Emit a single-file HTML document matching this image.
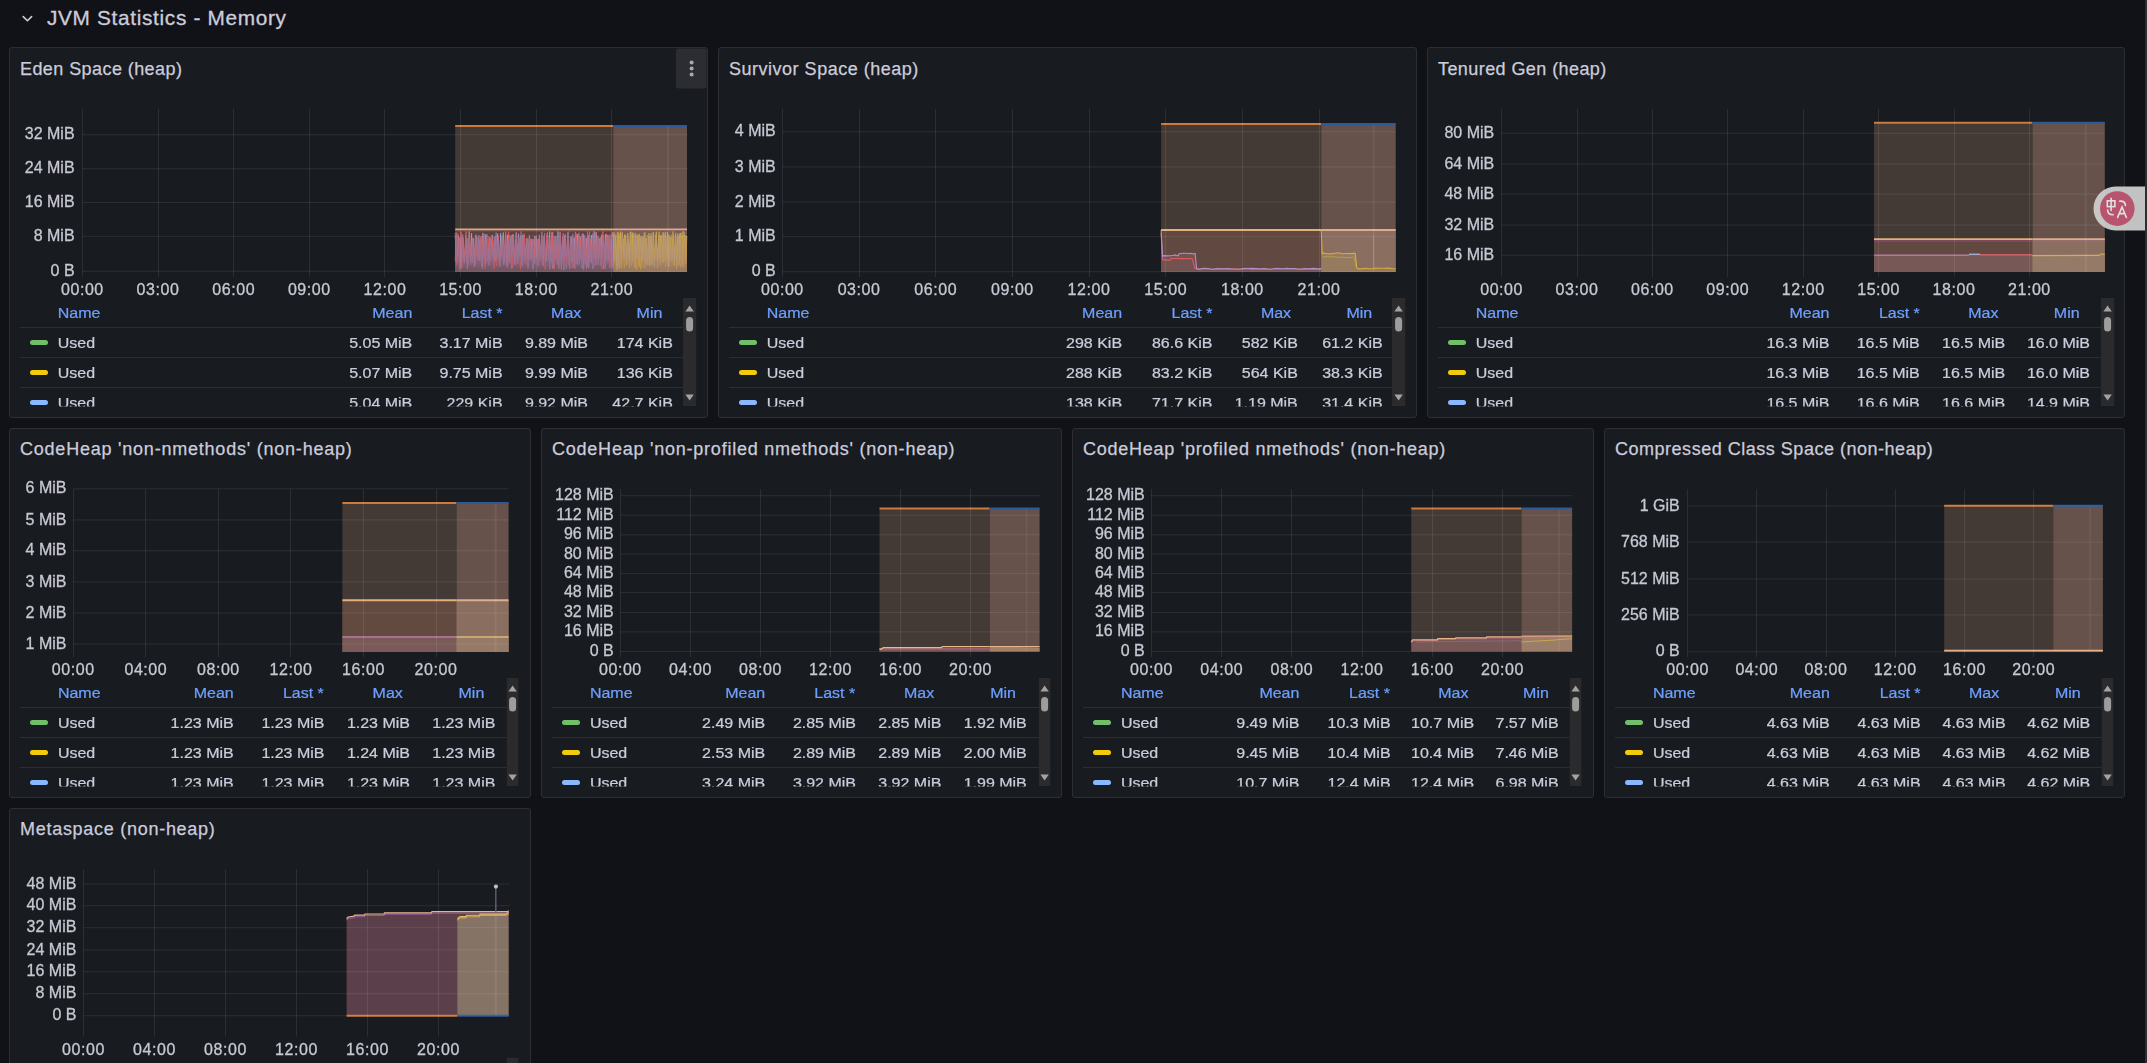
<!DOCTYPE html><html><head><meta charset="utf-8"><title>JVM Statistics - Memory</title><style>html,body{margin:0;padding:0;}
body{width:2147px;height:1063px;overflow:hidden;background:#111217;position:relative;font-family:"Liberation Sans", sans-serif;}
.panel{position:absolute;box-sizing:border-box;background:#181b1f;border:1px solid #2c2e33;border-radius:3px;}
.panel svg.ps{position:absolute;left:-1px;top:-1px;overflow:visible;}
.panel svg.ov{will-change:transform;}
svg text{font-family:"Liberation Sans", sans-serif;}
.pt{stroke:#ccccdc;stroke-width:0.25px;}
.ax{stroke:#c8c8d4;stroke-width:0.3px;}
.lg{stroke-width:0.25px;}
.row-h{position:absolute;left:0;top:0;width:2147px;height:40px;}
.sbar{position:absolute;left:2145px;top:0;width:2px;height:1063px;background:#2e2e2e;}
</style></head><body><svg class="row-h" width="2147" height="40"><path d="M23.2 16.6 L27.4 20.8 L31.6 16.6" fill="none" stroke="#ccccdc" stroke-width="1.6" stroke-linecap="round" stroke-linejoin="round"/><text x="47" y="25" font-size="20.8" fill="#ccccdc" letter-spacing="0.67" style="stroke:#ccccdc;stroke-width:0.3px">JVM Statistics - Memory</text></svg><div class="panel" style="left:9px;top:47px;width:699px;height:371px"><svg style="top:0px" class="ps" width="699" height="371" viewBox="0 0 699 371"><text x="11.00" y="27.00" font-size="18" fill="#ccccdc" class="pt" textLength="161.9" lengthAdjust="spacing">Eden Space (heap)</text><rect x="667" y="0.5" width="30.5" height="40" rx="2" fill="#2b2d32"/><circle cx="682.6" cy="14.6" r="2" fill="#a9a9b4"/><circle cx="682.6" cy="20.6" r="2" fill="#a9a9b4"/><circle cx="682.6" cy="26.4" r="2" fill="#a9a9b4"/><rect x="446.20" y="78.00" width="158.00" height="146.00" fill="#433a36"/><rect x="604.20" y="78.00" width="73.80" height="146.00" fill="#66524a"/><defs><linearGradient id="eg1" gradientUnits="userSpaceOnUse" x1="0" y1="181.4" x2="0" y2="224.0"><stop offset="0" stop-color="#9a7098" stop-opacity="0.75"/><stop offset="0.7" stop-color="#8e6a8a" stop-opacity="0.55"/><stop offset="1" stop-color="#7a5a70" stop-opacity="0.15"/></linearGradient><linearGradient id="eg2" gradientUnits="userSpaceOnUse" x1="0" y1="181.4" x2="0" y2="224.0"><stop offset="0" stop-color="#c09458" stop-opacity="0.8"/><stop offset="0.7" stop-color="#b48a58" stop-opacity="0.6"/><stop offset="1" stop-color="#a08060" stop-opacity="0.2"/></linearGradient></defs><rect x="446.20" y="181.40" width="158.00" height="42.60" fill="#5a4240"/><rect x="446.20" y="215.00" width="158.00" height="9.00" fill="#6a4e4c"/><rect x="604.20" y="181.40" width="73.80" height="42.60" fill="#7a6252"/><rect x="604.20" y="215.00" width="73.80" height="9.00" fill="#8a6e5e"/><path d="M446.2 224.0 L446.2 187.7 L448.1 214.5 L449.5 187.9 L450.5 215.2 L452.1 189.6 L453.0 212.2 L453.9 189.8 L455.5 208.6 L457.5 191.1 L459.1 216.6 L460.1 183.0 L461.5 208.8 L462.6 185.0 L463.4 214.5 L464.7 190.1 L466.2 217.0 L467.6 188.5 L468.9 211.9 L470.9 191.4 L472.7 217.9 L473.9 184.9 L475.0 209.0 L476.8 186.3 L478.6 213.4 L480.5 190.1 L481.3 210.9 L483.2 186.9 L485.2 213.6 L486.1 188.3 L487.8 211.8 L488.7 185.7 L490.7 218.6 L491.6 185.0 L492.5 208.8 L494.3 184.4 L495.8 214.3 L496.8 189.1 L497.7 217.0 L498.7 186.5 L499.7 211.8 L501.7 189.7 L502.9 220.4 L503.9 186.3 L505.7 217.0 L506.7 191.3 L507.7 211.6 L509.5 185.7 L510.6 209.0 L511.5 187.9 L512.6 216.4 L513.9 186.8 L515.8 214.8 L517.3 190.3 L518.3 210.2 L520.2 189.9 L521.3 210.7 L523.0 190.9 L524.0 221.3 L525.9 188.0 L527.2 209.5 L528.0 191.1 L529.1 217.9 L530.2 189.9 L531.7 212.1 L532.8 189.0 L533.6 211.2 L535.1 190.1 L536.6 211.9 L538.5 184.6 L539.4 211.8 L540.7 183.4 L541.7 213.2 L543.2 184.0 L544.4 220.5 L546.4 188.5 L548.0 216.2 L549.0 183.2 L549.8 220.7 L551.5 191.1 L552.3 216.9 L553.7 189.1 L554.9 222.0 L555.8 187.5 L557.4 220.6 L559.1 188.9 L560.9 220.8 L562.1 188.7 L564.0 220.2 L565.3 189.6 L567.1 216.0 L568.7 186.1 L570.2 216.5 L571.1 188.3 L573.0 220.3 L574.7 186.2 L576.4 216.1 L577.7 190.0 L578.6 218.5 L579.5 188.0 L580.8 211.2 L582.5 187.1 L584.0 220.9 L585.1 183.0 L586.3 217.5 L587.3 184.3 L589.2 217.2 L590.6 190.5 L591.7 217.3 L592.8 186.6 L594.5 220.8 L596.4 186.2 L597.9 212.4 L598.9 187.1 L600.7 219.9 L602.3 191.0 L603.5 210.4 L604.2 210.4 L604.2 224.0" fill="url(#eg1)" stroke-linejoin="round"/><path d="M446.2 187.7 L448.1 214.5 L449.5 187.9 L450.5 215.2 L452.1 189.6 L453.0 212.2 L453.9 189.8 L455.5 208.6 L457.5 191.1 L459.1 216.6 L460.1 183.0 L461.5 208.8 L462.6 185.0 L463.4 214.5 L464.7 190.1 L466.2 217.0 L467.6 188.5 L468.9 211.9 L470.9 191.4 L472.7 217.9 L473.9 184.9 L475.0 209.0 L476.8 186.3 L478.6 213.4 L480.5 190.1 L481.3 210.9 L483.2 186.9 L485.2 213.6 L486.1 188.3 L487.8 211.8 L488.7 185.7 L490.7 218.6 L491.6 185.0 L492.5 208.8 L494.3 184.4 L495.8 214.3 L496.8 189.1 L497.7 217.0 L498.7 186.5 L499.7 211.8 L501.7 189.7 L502.9 220.4 L503.9 186.3 L505.7 217.0 L506.7 191.3 L507.7 211.6 L509.5 185.7 L510.6 209.0 L511.5 187.9 L512.6 216.4 L513.9 186.8 L515.8 214.8 L517.3 190.3 L518.3 210.2 L520.2 189.9 L521.3 210.7 L523.0 190.9 L524.0 221.3 L525.9 188.0 L527.2 209.5 L528.0 191.1 L529.1 217.9 L530.2 189.9 L531.7 212.1 L532.8 189.0 L533.6 211.2 L535.1 190.1 L536.6 211.9 L538.5 184.6 L539.4 211.8 L540.7 183.4 L541.7 213.2 L543.2 184.0 L544.4 220.5 L546.4 188.5 L548.0 216.2 L549.0 183.2 L549.8 220.7 L551.5 191.1 L552.3 216.9 L553.7 189.1 L554.9 222.0 L555.8 187.5 L557.4 220.6 L559.1 188.9 L560.9 220.8 L562.1 188.7 L564.0 220.2 L565.3 189.6 L567.1 216.0 L568.7 186.1 L570.2 216.5 L571.1 188.3 L573.0 220.3 L574.7 186.2 L576.4 216.1 L577.7 190.0 L578.6 218.5 L579.5 188.0 L580.8 211.2 L582.5 187.1 L584.0 220.9 L585.1 183.0 L586.3 217.5 L587.3 184.3 L589.2 217.2 L590.6 190.5 L591.7 217.3 L592.8 186.6 L594.5 220.8 L596.4 186.2 L597.9 212.4 L598.9 187.1 L600.7 219.9 L602.3 191.0 L603.5 210.4 L604.2 210.4" fill="none" stroke="#aaa6d0" stroke-width="0.9" stroke-opacity="0.75" stroke-linejoin="round"/><path d="M446.2 224.0 L446.2 184.7 L447.5 216.8 L448.9 185.6 L450.7 221.7 L452.0 183.5 L452.9 220.2 L453.7 188.9 L455.2 212.3 L457.0 183.1 L457.9 214.4 L458.8 190.0 L459.8 210.0 L460.7 188.2 L462.0 216.8 L463.6 189.8 L465.6 217.6 L466.6 186.9 L467.6 208.2 L469.0 189.0 L470.0 211.8 L471.2 188.8 L472.6 216.6 L474.3 186.2 L476.1 220.7 L477.0 190.8 L478.7 209.8 L480.0 188.2 L481.9 213.3 L483.4 190.4 L485.1 221.2 L486.5 188.4 L487.5 218.1 L489.3 188.4 L491.0 211.0 L492.9 191.2 L494.8 215.5 L496.6 185.6 L498.5 220.0 L499.7 183.6 L501.0 215.7 L502.8 187.0 L503.6 219.3 L504.5 189.7 L505.5 212.7 L507.2 184.1 L508.2 215.2 L509.9 190.0 L511.5 221.2 L512.9 191.0 L513.8 211.1 L515.2 185.4 L516.9 216.9 L518.3 190.1 L519.8 212.4 L521.1 190.1 L522.9 210.9 L524.8 191.1 L526.2 216.0 L527.2 187.5 L528.6 216.5 L529.5 191.1 L530.9 213.6 L532.6 187.7 L534.0 217.7 L534.9 187.5 L536.2 221.4 L538.1 185.2 L539.5 209.8 L540.8 189.8 L542.7 214.7 L543.9 184.5 L545.4 221.0 L546.4 189.5 L547.2 210.7 L548.3 188.7 L549.4 213.0 L551.0 183.8 L552.7 209.7 L554.1 185.0 L555.1 215.4 L556.4 186.1 L557.7 215.4 L558.7 184.6 L560.3 216.9 L561.7 190.1 L563.3 220.0 L564.3 189.2 L566.1 220.6 L567.3 185.6 L569.2 211.1 L571.2 190.4 L572.2 211.4 L573.8 185.1 L574.7 219.7 L576.0 189.6 L577.0 213.6 L578.6 183.1 L579.7 217.6 L581.6 191.1 L582.5 215.1 L584.2 187.2 L585.8 210.6 L586.7 183.8 L587.6 215.7 L589.0 187.7 L589.9 210.6 L591.0 190.0 L593.0 221.0 L593.9 183.4 L595.8 214.5 L597.6 185.7 L598.9 215.2 L600.2 188.0 L601.0 217.8 L602.9 184.4 L604.2 184.4 L604.2 224.0" fill="url(#eg1)" stroke-linejoin="round"/><path d="M446.2 184.7 L447.5 216.8 L448.9 185.6 L450.7 221.7 L452.0 183.5 L452.9 220.2 L453.7 188.9 L455.2 212.3 L457.0 183.1 L457.9 214.4 L458.8 190.0 L459.8 210.0 L460.7 188.2 L462.0 216.8 L463.6 189.8 L465.6 217.6 L466.6 186.9 L467.6 208.2 L469.0 189.0 L470.0 211.8 L471.2 188.8 L472.6 216.6 L474.3 186.2 L476.1 220.7 L477.0 190.8 L478.7 209.8 L480.0 188.2 L481.9 213.3 L483.4 190.4 L485.1 221.2 L486.5 188.4 L487.5 218.1 L489.3 188.4 L491.0 211.0 L492.9 191.2 L494.8 215.5 L496.6 185.6 L498.5 220.0 L499.7 183.6 L501.0 215.7 L502.8 187.0 L503.6 219.3 L504.5 189.7 L505.5 212.7 L507.2 184.1 L508.2 215.2 L509.9 190.0 L511.5 221.2 L512.9 191.0 L513.8 211.1 L515.2 185.4 L516.9 216.9 L518.3 190.1 L519.8 212.4 L521.1 190.1 L522.9 210.9 L524.8 191.1 L526.2 216.0 L527.2 187.5 L528.6 216.5 L529.5 191.1 L530.9 213.6 L532.6 187.7 L534.0 217.7 L534.9 187.5 L536.2 221.4 L538.1 185.2 L539.5 209.8 L540.8 189.8 L542.7 214.7 L543.9 184.5 L545.4 221.0 L546.4 189.5 L547.2 210.7 L548.3 188.7 L549.4 213.0 L551.0 183.8 L552.7 209.7 L554.1 185.0 L555.1 215.4 L556.4 186.1 L557.7 215.4 L558.7 184.6 L560.3 216.9 L561.7 190.1 L563.3 220.0 L564.3 189.2 L566.1 220.6 L567.3 185.6 L569.2 211.1 L571.2 190.4 L572.2 211.4 L573.8 185.1 L574.7 219.7 L576.0 189.6 L577.0 213.6 L578.6 183.1 L579.7 217.6 L581.6 191.1 L582.5 215.1 L584.2 187.2 L585.8 210.6 L586.7 183.8 L587.6 215.7 L589.0 187.7 L589.9 210.6 L591.0 190.0 L593.0 221.0 L593.9 183.4 L595.8 214.5 L597.6 185.7 L598.9 215.2 L600.2 188.0 L601.0 217.8 L602.9 184.4 L604.2 184.4" fill="none" stroke="#ec5850" stroke-width="0.9" stroke-opacity="0.9" stroke-linejoin="round"/><path d="M446.2 224.0 L446.2 213.7 L447.2 184.3 L448.6 208.2 L450.5 189.7 L452.2 220.1 L453.7 186.3 L455.2 215.1 L457.2 189.7 L458.3 220.8 L460.0 189.5 L461.8 213.7 L463.7 190.4 L465.3 218.7 L467.0 186.3 L468.7 209.0 L469.9 186.9 L470.7 213.0 L472.3 188.2 L473.4 221.2 L475.0 185.8 L476.6 216.0 L478.0 186.2 L480.0 217.0 L481.6 189.4 L483.6 208.3 L485.2 189.2 L486.3 213.6 L487.1 184.6 L488.4 209.4 L489.5 190.6 L490.9 215.1 L492.9 187.7 L494.9 216.9 L496.7 183.5 L498.2 218.6 L499.0 190.8 L500.0 214.6 L501.0 187.1 L502.6 208.8 L504.5 186.5 L505.9 216.4 L507.2 185.3 L508.7 215.8 L509.9 189.0 L511.0 208.2 L512.1 183.3 L513.1 218.6 L514.4 190.5 L516.1 208.7 L518.1 190.9 L519.0 220.7 L520.3 187.0 L522.2 211.4 L523.7 190.9 L525.3 214.6 L527.3 189.8 L528.8 209.6 L530.4 186.8 L531.4 208.7 L532.9 184.0 L534.2 217.4 L535.5 185.1 L537.0 213.9 L538.8 187.4 L540.8 221.3 L542.5 184.9 L543.4 220.5 L545.1 188.2 L546.4 211.8 L548.0 187.7 L549.5 216.9 L551.2 184.5 L552.3 221.7 L554.2 190.4 L555.0 208.9 L556.2 186.5 L557.7 209.4 L559.2 183.5 L560.1 217.5 L561.5 188.3 L562.8 214.7 L563.8 185.8 L565.5 219.7 L566.4 183.9 L568.2 216.7 L569.9 184.7 L571.2 211.6 L573.0 186.0 L574.6 221.8 L575.8 187.6 L577.5 220.9 L578.8 186.0 L579.7 220.3 L580.6 183.6 L582.1 214.8 L583.7 185.4 L585.4 209.1 L586.5 188.5 L587.4 212.3 L589.0 188.8 L590.2 210.0 L591.4 189.1 L592.7 209.6 L594.3 187.7 L596.2 221.2 L598.1 186.6 L599.9 212.3 L601.0 186.3 L603.0 220.5 L604.1 186.0 L604.2 186.0 L604.2 224.0" fill="url(#eg1)" stroke-linejoin="round"/><path d="M446.2 213.7 L447.2 184.3 L448.6 208.2 L450.5 189.7 L452.2 220.1 L453.7 186.3 L455.2 215.1 L457.2 189.7 L458.3 220.8 L460.0 189.5 L461.8 213.7 L463.7 190.4 L465.3 218.7 L467.0 186.3 L468.7 209.0 L469.9 186.9 L470.7 213.0 L472.3 188.2 L473.4 221.2 L475.0 185.8 L476.6 216.0 L478.0 186.2 L480.0 217.0 L481.6 189.4 L483.6 208.3 L485.2 189.2 L486.3 213.6 L487.1 184.6 L488.4 209.4 L489.5 190.6 L490.9 215.1 L492.9 187.7 L494.9 216.9 L496.7 183.5 L498.2 218.6 L499.0 190.8 L500.0 214.6 L501.0 187.1 L502.6 208.8 L504.5 186.5 L505.9 216.4 L507.2 185.3 L508.7 215.8 L509.9 189.0 L511.0 208.2 L512.1 183.3 L513.1 218.6 L514.4 190.5 L516.1 208.7 L518.1 190.9 L519.0 220.7 L520.3 187.0 L522.2 211.4 L523.7 190.9 L525.3 214.6 L527.3 189.8 L528.8 209.6 L530.4 186.8 L531.4 208.7 L532.9 184.0 L534.2 217.4 L535.5 185.1 L537.0 213.9 L538.8 187.4 L540.8 221.3 L542.5 184.9 L543.4 220.5 L545.1 188.2 L546.4 211.8 L548.0 187.7 L549.5 216.9 L551.2 184.5 L552.3 221.7 L554.2 190.4 L555.0 208.9 L556.2 186.5 L557.7 209.4 L559.2 183.5 L560.1 217.5 L561.5 188.3 L562.8 214.7 L563.8 185.8 L565.5 219.7 L566.4 183.9 L568.2 216.7 L569.9 184.7 L571.2 211.6 L573.0 186.0 L574.6 221.8 L575.8 187.6 L577.5 220.9 L578.8 186.0 L579.7 220.3 L580.6 183.6 L582.1 214.8 L583.7 185.4 L585.4 209.1 L586.5 188.5 L587.4 212.3 L589.0 188.8 L590.2 210.0 L591.4 189.1 L592.7 209.6 L594.3 187.7 L596.2 221.2 L598.1 186.6 L599.9 212.3 L601.0 186.3 L603.0 220.5 L604.1 186.0 L604.2 186.0" fill="none" stroke="#9c7498" stroke-width="0.9" stroke-opacity="0.9" stroke-linejoin="round"/><path d="M604.2 224.0 L604.2 185.9 L605.3 212.3 L606.6 188.9 L607.8 220.0 L609.1 184.2 L610.5 220.6 L611.5 183.1 L612.7 216.5 L614.0 190.1 L615.3 219.7 L616.1 187.0 L617.6 211.0 L618.4 188.4 L620.0 211.0 L621.3 184.0 L622.7 217.8 L623.7 184.6 L625.2 216.3 L626.6 185.9 L627.7 221.6 L629.0 186.6 L630.3 218.7 L631.7 189.8 L632.8 219.9 L634.2 189.3 L635.7 220.0 L637.2 190.1 L638.6 216.3 L640.0 188.9 L641.1 215.0 L642.0 188.5 L643.7 214.5 L644.5 184.4 L645.6 213.5 L647.3 183.3 L648.3 211.4 L649.7 188.7 L650.6 210.7 L651.7 187.3 L653.3 210.4 L654.1 184.3 L655.0 212.8 L656.5 187.4 L657.4 212.2 L658.4 184.2 L659.8 213.7 L661.1 189.0 L662.3 213.1 L663.8 189.8 L664.9 216.6 L666.5 186.5 L667.5 210.6 L669.1 188.9 L670.2 216.3 L671.4 185.0 L673.1 217.9 L674.0 183.0 L675.2 214.5 L676.7 188.2 L678.0 188.2 L678.0 224.0" fill="url(#eg2)" stroke-linejoin="round"/><path d="M604.2 185.9 L605.3 212.3 L606.6 188.9 L607.8 220.0 L609.1 184.2 L610.5 220.6 L611.5 183.1 L612.7 216.5 L614.0 190.1 L615.3 219.7 L616.1 187.0 L617.6 211.0 L618.4 188.4 L620.0 211.0 L621.3 184.0 L622.7 217.8 L623.7 184.6 L625.2 216.3 L626.6 185.9 L627.7 221.6 L629.0 186.6 L630.3 218.7 L631.7 189.8 L632.8 219.9 L634.2 189.3 L635.7 220.0 L637.2 190.1 L638.6 216.3 L640.0 188.9 L641.1 215.0 L642.0 188.5 L643.7 214.5 L644.5 184.4 L645.6 213.5 L647.3 183.3 L648.3 211.4 L649.7 188.7 L650.6 210.7 L651.7 187.3 L653.3 210.4 L654.1 184.3 L655.0 212.8 L656.5 187.4 L657.4 212.2 L658.4 184.2 L659.8 213.7 L661.1 189.0 L662.3 213.1 L663.8 189.8 L664.9 216.6 L666.5 186.5 L667.5 210.6 L669.1 188.9 L670.2 216.3 L671.4 185.0 L673.1 217.9 L674.0 183.0 L675.2 214.5 L676.7 188.2 L678.0 188.2" fill="none" stroke="#d8a838" stroke-width="0.9" stroke-opacity="0.95" stroke-linejoin="round"/><path d="M604.2 224.0 L604.2 184.1 L605.2 213.1 L606.8 186.8 L608.1 221.9 L609.1 186.9 L609.9 219.2 L610.6 189.1 L612.2 219.9 L613.0 184.9 L614.4 211.2 L615.6 186.4 L617.2 217.0 L618.8 185.2 L620.3 215.0 L621.9 183.6 L623.4 212.5 L624.7 186.8 L625.5 220.0 L626.5 185.2 L627.3 213.7 L628.5 188.3 L629.5 218.2 L630.3 185.9 L631.5 221.6 L633.0 187.8 L633.7 214.5 L635.2 184.7 L636.4 215.5 L637.1 190.3 L638.6 212.5 L639.9 185.1 L641.0 216.5 L642.0 185.4 L643.1 218.0 L644.1 184.4 L645.5 214.0 L647.1 187.1 L648.6 214.0 L650.1 183.6 L650.9 211.1 L652.3 188.2 L653.2 214.8 L654.7 187.3 L655.5 212.7 L656.4 183.8 L657.5 210.9 L659.1 186.1 L660.3 217.8 L661.8 189.1 L662.9 214.0 L664.0 183.0 L665.1 218.4 L666.8 188.8 L668.1 217.3 L668.8 185.4 L669.9 217.8 L670.7 185.7 L671.9 219.5 L673.4 187.5 L674.3 219.2 L675.9 187.0 L676.9 216.0 L677.8 188.3 L678.0 188.3 L678.0 224.0" fill="url(#eg2)" stroke-linejoin="round"/><path d="M604.2 184.1 L605.2 213.1 L606.8 186.8 L608.1 221.9 L609.1 186.9 L609.9 219.2 L610.6 189.1 L612.2 219.9 L613.0 184.9 L614.4 211.2 L615.6 186.4 L617.2 217.0 L618.8 185.2 L620.3 215.0 L621.9 183.6 L623.4 212.5 L624.7 186.8 L625.5 220.0 L626.5 185.2 L627.3 213.7 L628.5 188.3 L629.5 218.2 L630.3 185.9 L631.5 221.6 L633.0 187.8 L633.7 214.5 L635.2 184.7 L636.4 215.5 L637.1 190.3 L638.6 212.5 L639.9 185.1 L641.0 216.5 L642.0 185.4 L643.1 218.0 L644.1 184.4 L645.5 214.0 L647.1 187.1 L648.6 214.0 L650.1 183.6 L650.9 211.1 L652.3 188.2 L653.2 214.8 L654.7 187.3 L655.5 212.7 L656.4 183.8 L657.5 210.9 L659.1 186.1 L660.3 217.8 L661.8 189.1 L662.9 214.0 L664.0 183.0 L665.1 218.4 L666.8 188.8 L668.1 217.3 L668.8 185.4 L669.9 217.8 L670.7 185.7 L671.9 219.5 L673.4 187.5 L674.3 219.2 L675.9 187.0 L676.9 216.0 L677.8 188.3 L678.0 188.3" fill="none" stroke="#c89e48" stroke-width="0.9" stroke-opacity="0.9" stroke-linejoin="round"/><path d="M604.2 224.0 L604.2 218.6 L605.7 184.4 L607.4 217.5 L608.3 183.5 L609.2 216.9 L610.6 185.4 L612.2 214.3 L613.4 183.8 L615.1 211.6 L616.7 187.0 L618.0 216.7 L618.9 189.7 L620.6 219.8 L621.9 183.8 L623.4 213.5 L625.0 184.7 L626.3 220.0 L627.2 187.0 L628.0 210.4 L628.8 190.3 L630.5 217.9 L631.5 187.9 L632.9 214.6 L634.2 188.9 L634.9 212.4 L636.1 184.0 L637.2 216.8 L638.1 186.8 L639.0 216.8 L640.1 187.7 L640.8 218.1 L641.6 190.1 L642.9 215.6 L644.1 187.6 L645.4 219.1 L646.9 186.5 L648.6 220.1 L650.1 186.0 L651.3 216.8 L652.9 186.8 L654.1 215.2 L655.7 185.3 L656.5 218.7 L658.1 188.4 L659.4 219.0 L660.4 187.4 L661.1 211.5 L662.3 186.7 L663.4 210.6 L664.8 186.8 L665.7 213.7 L666.8 184.7 L667.6 220.9 L669.3 187.9 L670.8 215.1 L672.3 184.6 L673.8 216.8 L675.4 183.6 L676.9 211.5 L678.0 211.5 L678.0 224.0" fill="url(#eg2)" stroke-linejoin="round"/><path d="M604.2 218.6 L605.7 184.4 L607.4 217.5 L608.3 183.5 L609.2 216.9 L610.6 185.4 L612.2 214.3 L613.4 183.8 L615.1 211.6 L616.7 187.0 L618.0 216.7 L618.9 189.7 L620.6 219.8 L621.9 183.8 L623.4 213.5 L625.0 184.7 L626.3 220.0 L627.2 187.0 L628.0 210.4 L628.8 190.3 L630.5 217.9 L631.5 187.9 L632.9 214.6 L634.2 188.9 L634.9 212.4 L636.1 184.0 L637.2 216.8 L638.1 186.8 L639.0 216.8 L640.1 187.7 L640.8 218.1 L641.6 190.1 L642.9 215.6 L644.1 187.6 L645.4 219.1 L646.9 186.5 L648.6 220.1 L650.1 186.0 L651.3 216.8 L652.9 186.8 L654.1 215.2 L655.7 185.3 L656.5 218.7 L658.1 188.4 L659.4 219.0 L660.4 187.4 L661.1 211.5 L662.3 186.7 L663.4 210.6 L664.8 186.8 L665.7 213.7 L666.8 184.7 L667.6 220.9 L669.3 187.9 L670.8 215.1 L672.3 184.6 L673.8 216.8 L675.4 183.6 L676.9 211.5 L678.0 211.5" fill="none" stroke="#b09890" stroke-width="0.9" stroke-opacity="0.6" stroke-linejoin="round"/><rect x="446.20" y="182.20" width="231.80" height="1.40" fill="#8a4f6a" fill-opacity="0.6"/><line x1="446.20" y1="181.40" x2="604.20" y2="181.40" stroke="#dcaa78" stroke-width="1.6"/><line x1="604.20" y1="181.40" x2="678.00" y2="181.40" stroke="#d8aa90" stroke-width="1.6"/><rect x="658.00" y="79.00" width="2.00" height="145.00" fill="#ffffff" fill-opacity="0.06"/><line x1="446.20" y1="78.00" x2="604.20" y2="78.00" stroke="#cf7a3a" stroke-width="2"/><line x1="604.20" y1="78.00" x2="678.00" y2="78.00" stroke="#2a5a9c" stroke-width="2"/><line x1="73.4" y1="86.75" x2="678.5" y2="86.75" stroke="rgba(255,255,255,0.085)" stroke-width="1"/><line x1="73.4" y1="120.77" x2="678.5" y2="120.77" stroke="rgba(255,255,255,0.085)" stroke-width="1"/><line x1="73.4" y1="154.48" x2="678.5" y2="154.48" stroke="rgba(255,255,255,0.085)" stroke-width="1"/><line x1="73.4" y1="188.34" x2="678.5" y2="188.34" stroke="rgba(255,255,255,0.085)" stroke-width="1"/><line x1="73.4" y1="223.26" x2="678.5" y2="223.26" stroke="rgba(255,255,255,0.085)" stroke-width="1"/><line x1="73.5" y1="61.0" x2="73.5" y2="229.0" stroke="rgba(255,255,255,0.085)" stroke-width="1"/><line x1="149.5" y1="61.0" x2="149.5" y2="229.0" stroke="rgba(255,255,255,0.085)" stroke-width="1"/><line x1="224.5" y1="61.0" x2="224.5" y2="229.0" stroke="rgba(255,255,255,0.085)" stroke-width="1"/><line x1="300.5" y1="61.0" x2="300.5" y2="229.0" stroke="rgba(255,255,255,0.085)" stroke-width="1"/><line x1="375.5" y1="61.0" x2="375.5" y2="229.0" stroke="rgba(255,255,255,0.085)" stroke-width="1"/><line x1="451.5" y1="61.0" x2="451.5" y2="229.0" stroke="rgba(255,255,255,0.085)" stroke-width="1"/><line x1="527.5" y1="61.0" x2="527.5" y2="229.0" stroke="rgba(255,255,255,0.085)" stroke-width="1"/><line x1="602.5" y1="61.0" x2="602.5" y2="229.0" stroke="rgba(255,255,255,0.085)" stroke-width="1"/><rect x="674.0" y="250" width="13.2" height="108" fill="#2b2b2e"/><path d="M676.4 263.5 L680.6 257.5 L684.8 263.5 Z" fill="#a3a3a3"/><rect x="677.1" y="269" width="7" height="14.5" rx="3.5" fill="#9d9d9d"/><path d="M676.4 346.6 L680.6 352.6 L684.8 346.6 Z" fill="#a3a3a3"/></svg><svg style="top:0px" class="ps ov" width="699" height="371" viewBox="0 0 699 371"><text transform="translate(65.60 91.35) scale(1.02 1)" font-size="15.7" fill="#c8c8d4" text-anchor="end" class="ax">32 MiB</text><text transform="translate(65.60 125.37) scale(1.02 1)" font-size="15.7" fill="#c8c8d4" text-anchor="end" class="ax">24 MiB</text><text transform="translate(65.60 159.08) scale(1.02 1)" font-size="15.7" fill="#c8c8d4" text-anchor="end" class="ax">16 MiB</text><text transform="translate(65.60 192.94) scale(1.02 1)" font-size="15.7" fill="#c8c8d4" text-anchor="end" class="ax">8 MiB</text><text transform="translate(65.60 227.86) scale(1.02 1)" font-size="15.7" fill="#c8c8d4" text-anchor="end" class="ax">0 B</text><text transform="translate(73.40 246.50) scale(1.02 1)" font-size="15.7" fill="#c8c8d4" text-anchor="middle" letter-spacing="0.55" class="ax">00:00</text><text transform="translate(149.04 246.50) scale(1.02 1)" font-size="15.7" fill="#c8c8d4" text-anchor="middle" letter-spacing="0.55" class="ax">03:00</text><text transform="translate(224.68 246.50) scale(1.02 1)" font-size="15.7" fill="#c8c8d4" text-anchor="middle" letter-spacing="0.55" class="ax">06:00</text><text transform="translate(300.31 246.50) scale(1.02 1)" font-size="15.7" fill="#c8c8d4" text-anchor="middle" letter-spacing="0.55" class="ax">09:00</text><text transform="translate(375.95 246.50) scale(1.02 1)" font-size="15.7" fill="#c8c8d4" text-anchor="middle" letter-spacing="0.55" class="ax">12:00</text><text transform="translate(451.59 246.50) scale(1.02 1)" font-size="15.7" fill="#c8c8d4" text-anchor="middle" letter-spacing="0.55" class="ax">15:00</text><text transform="translate(527.23 246.50) scale(1.02 1)" font-size="15.7" fill="#c8c8d4" text-anchor="middle" letter-spacing="0.55" class="ax">18:00</text><text transform="translate(602.86 246.50) scale(1.02 1)" font-size="15.7" fill="#c8c8d4" text-anchor="middle" letter-spacing="0.55" class="ax">21:00</text><svg x="0" y="0" width="699" height="358.5" overflow="hidden"><text transform="translate(48.80 269.60) scale(1.053 1)" font-size="15.2" fill="#6e9fff" class="lg" stroke="#6e9fff">Name</text><text transform="translate(403.30 269.60) scale(1.053 1)" font-size="15.2" fill="#6e9fff" text-anchor="end" class="lg" stroke="#6e9fff">Mean</text><text transform="translate(493.60 269.60) scale(1.053 1)" font-size="15.2" fill="#6e9fff" text-anchor="end" class="lg" stroke="#6e9fff">Last *</text><text transform="translate(572.30 269.60) scale(1.053 1)" font-size="15.2" fill="#6e9fff" text-anchor="end" class="lg" stroke="#6e9fff">Max</text><text transform="translate(653.40 269.60) scale(1.053 1)" font-size="15.2" fill="#6e9fff" text-anchor="end" class="lg" stroke="#6e9fff">Min</text><rect x="11" y="279" width="663.0" height="1" fill="#2c2e33"/><rect x="21" y="292.0" width="18" height="5" rx="2.5" fill="#73bf69"/><text transform="translate(48.80 300.00) scale(1.053 1)" font-size="15.2" fill="#ccccdc" class="lg" stroke="#ccccdc">Used</text><text transform="translate(403.30 300.00) scale(1.053 1)" font-size="15.2" fill="#ccccdc" text-anchor="end" class="lg" stroke="#ccccdc">5.05 MiB</text><text transform="translate(493.60 300.00) scale(1.053 1)" font-size="15.2" fill="#ccccdc" text-anchor="end" class="lg" stroke="#ccccdc">3.17 MiB</text><text transform="translate(579.00 300.00) scale(1.053 1)" font-size="15.2" fill="#ccccdc" text-anchor="end" class="lg" stroke="#ccccdc">9.89 MiB</text><text transform="translate(663.80 300.00) scale(1.053 1)" font-size="15.2" fill="#ccccdc" text-anchor="end" class="lg" stroke="#ccccdc">174 KiB</text><rect x="11" y="309.0" width="663.0" height="1" fill="#2c2e33"/><rect x="21" y="322.0" width="18" height="5" rx="2.5" fill="#f2cc0c"/><text transform="translate(48.80 330.00) scale(1.053 1)" font-size="15.2" fill="#ccccdc" class="lg" stroke="#ccccdc">Used</text><text transform="translate(403.30 330.00) scale(1.053 1)" font-size="15.2" fill="#ccccdc" text-anchor="end" class="lg" stroke="#ccccdc">5.07 MiB</text><text transform="translate(493.60 330.00) scale(1.053 1)" font-size="15.2" fill="#ccccdc" text-anchor="end" class="lg" stroke="#ccccdc">9.75 MiB</text><text transform="translate(579.00 330.00) scale(1.053 1)" font-size="15.2" fill="#ccccdc" text-anchor="end" class="lg" stroke="#ccccdc">9.99 MiB</text><text transform="translate(663.80 330.00) scale(1.053 1)" font-size="15.2" fill="#ccccdc" text-anchor="end" class="lg" stroke="#ccccdc">136 KiB</text><rect x="11" y="339.0" width="663.0" height="1" fill="#2c2e33"/><rect x="21" y="352.0" width="18" height="5" rx="2.5" fill="#8ab8ff"/><text transform="translate(48.80 360.00) scale(1.053 1)" font-size="15.2" fill="#ccccdc" class="lg" stroke="#ccccdc">Used</text><text transform="translate(403.30 360.00) scale(1.053 1)" font-size="15.2" fill="#ccccdc" text-anchor="end" class="lg" stroke="#ccccdc">5.04 MiB</text><text transform="translate(493.60 360.00) scale(1.053 1)" font-size="15.2" fill="#ccccdc" text-anchor="end" class="lg" stroke="#ccccdc">229 KiB</text><text transform="translate(579.00 360.00) scale(1.053 1)" font-size="15.2" fill="#ccccdc" text-anchor="end" class="lg" stroke="#ccccdc">9.92 MiB</text><text transform="translate(663.80 360.00) scale(1.053 1)" font-size="15.2" fill="#ccccdc" text-anchor="end" class="lg" stroke="#ccccdc">42.7 KiB</text></svg></svg></div><div class="panel" style="left:718px;top:47px;width:699px;height:371px"><svg style="top:0px" class="ps" width="699" height="371" viewBox="0 0 699 371"><text x="11.00" y="27.00" font-size="18" fill="#ccccdc" class="pt" textLength="189.3" lengthAdjust="spacing">Survivor Space (heap)</text><rect x="443.10" y="75.90" width="160.10" height="148.10" fill="#433a36"/><rect x="603.20" y="75.90" width="74.50" height="148.10" fill="#66524a"/><rect x="443.10" y="182.00" width="160.10" height="42.00" fill="#614840"/><rect x="603.20" y="182.00" width="74.50" height="42.00" fill="#8a6e60"/><path d="M443.1 224.0 L443.1 182.0 L444.6 208.5 L445.1 207.6 L448.8 207.9 L453.2 207.8 L457.4 206.9 L460.1 208.0 L461.1 205.7 L465.3 205.2 L468.2 205.3 L471.3 205.7 L472.9 205.3 L475.2 206.0 L477.1 205.3 L478.6 220.5 L480.1 221.1 L482.7 220.9 L485.2 220.3 L490.6 220.5 L493.5 221.3 L499.0 220.6 L504.8 220.8 L509.6 220.5 L515.3 221.0 L521.2 221.2 L524.4 220.7 L527.0 220.4 L529.3 220.6 L533.7 220.3 L538.4 220.6 L541.7 221.1 L545.6 220.6 L549.5 221.0 L551.7 221.3 L553.8 221.0 L559.2 220.3 L564.4 220.7 L568.7 220.3 L570.9 220.5 L576.7 220.5 L581.7 221.2 L587.5 220.6 L590.9 220.8 L596.0 220.4 L601.0 221.1 L603.2 220.3 L603.2 224.0" fill="#7a5658" fill-opacity="0.75" stroke-linejoin="round"/><path d="M443.1 185.0 L444.6 211.8 L445.1 212.1 L446.9 211.7 L450.2 212.1 L452.1 212.1 L453.1 210.6 L455.5 210.5 L457.6 210.3 L459.5 210.7 L464.0 210.4 L465.7 210.9 L468.8 210.5 L471.0 210.7 L474.1 210.6 L477.1 220.8 L479.1 220.9 L481.3 221.5 L483.5 221.0 L488.8 220.6 L493.7 221.5 L498.3 221.3 L500.7 220.9 L503.3 221.4 L506.5 220.9 L512.5 221.4 L518.4 220.9 L522.3 221.3 L526.2 220.7 L529.8 220.6 L533.4 221.6 L539.2 221.2 L543.2 220.8 L545.5 220.7 L550.7 221.4 L554.1 221.3 L559.2 221.2 L563.9 221.3 L567.3 221.2 L570.5 221.0 L575.5 221.2 L578.7 221.5 L583.3 221.1 L585.4 221.1 L588.4 221.2 L592.2 221.4 L596.8 221.4 L600.2 221.2 L603.2 221.4" fill="none" stroke="#e05a5a" stroke-width="1.1" stroke-linejoin="round"/><path d="M443.1 182.0 L444.6 208.5 L445.1 207.6 L448.8 207.9 L453.2 207.8 L457.4 206.9 L460.1 208.0 L461.1 205.7 L465.3 205.2 L468.2 205.3 L471.3 205.7 L472.9 205.3 L475.2 206.0 L477.1 205.3 L478.6 220.5 L480.1 221.1 L482.7 220.9 L485.2 220.3 L490.6 220.5 L493.5 221.3 L499.0 220.6 L504.8 220.8 L509.6 220.5 L515.3 221.0 L521.2 221.2 L524.4 220.7 L527.0 220.4 L529.3 220.6 L533.7 220.3 L538.4 220.6 L541.7 221.1 L545.6 220.6 L549.5 221.0 L551.7 221.3 L553.8 221.0 L559.2 220.3 L564.4 220.7 L568.7 220.3 L570.9 220.5 L576.7 220.5 L581.7 221.2 L587.5 220.6 L590.9 220.8 L596.0 220.4 L601.0 221.1 L603.2 220.3" fill="none" stroke="#b090c8" stroke-width="1.1" stroke-linejoin="round"/><path d="M603.2 224.0 L603.2 182.0 L604.2 206.0 L605.2 205.0 L609.2 205.7 L612.8 205.9 L617.2 205.2 L620.3 204.7 L624.3 205.8 L627.2 205.5 L630.9 205.5 L632.9 205.6 L636.1 205.4 L637.2 205.4 L638.7 219.5 L640.2 220.9 L644.7 220.8 L646.9 220.3 L650.6 220.8 L653.5 220.8 L658.0 220.1 L661.9 220.3 L664.1 220.2 L667.4 220.3 L670.2 220.1 L674.0 220.5 L677.7 220.7 L677.7 224.0" fill="#9c8060" fill-opacity="0.7" stroke-linejoin="round"/><path d="M604.2 210.0 L605.2 208.9 L609.4 208.6 L612.1 208.9 L614.9 208.7 L618.8 209.0 L620.5 209.3 L622.2 209.3 L624.8 209.3 L629.1 209.6 L631.9 209.6 L635.3 209.0 L636.2 209.3 L638.2 219.0" fill="none" stroke="#c0a050" stroke-width="1" stroke-opacity="0.8" stroke-linejoin="round"/><path d="M603.2 182.0 L604.2 206.0 L605.2 205.0 L609.2 205.7 L612.8 205.9 L617.2 205.2 L620.3 204.7 L624.3 205.8 L627.2 205.5 L630.9 205.5 L632.9 205.6 L636.1 205.4 L637.2 205.4 L638.7 219.5 L640.2 220.9 L644.7 220.8 L646.9 220.3 L650.6 220.8 L653.5 220.8 L658.0 220.1 L661.9 220.3 L664.1 220.2 L667.4 220.3 L670.2 220.1 L674.0 220.5 L677.7 220.7" fill="none" stroke="#d6ac3c" stroke-width="1.1" stroke-linejoin="round"/><line x1="443.10" y1="182.00" x2="603.20" y2="182.00" stroke="#e2b07c" stroke-width="2"/><line x1="603.20" y1="182.00" x2="677.70" y2="182.00" stroke="#dcae90" stroke-width="2"/><rect x="654.70" y="76.90" width="2.00" height="147.10" fill="#ffffff" fill-opacity="0.06"/><line x1="655.5" y1="187" x2="655.5" y2="222" stroke="#c080a8" stroke-width="1" stroke-opacity="0.8"/><line x1="443.10" y1="75.90" x2="603.20" y2="75.90" stroke="#cf7a3a" stroke-width="2"/><line x1="603.20" y1="75.90" x2="677.70" y2="75.90" stroke="#2a5a9c" stroke-width="2"/><line x1="64.4" y1="83.74" x2="677.7" y2="83.74" stroke="rgba(255,255,255,0.085)" stroke-width="1"/><line x1="64.4" y1="118.96" x2="677.7" y2="118.96" stroke="rgba(255,255,255,0.085)" stroke-width="1"/><line x1="64.4" y1="154.03" x2="677.7" y2="154.03" stroke="rgba(255,255,255,0.085)" stroke-width="1"/><line x1="64.4" y1="188.65" x2="677.7" y2="188.65" stroke="rgba(255,255,255,0.085)" stroke-width="1"/><line x1="64.4" y1="223.72" x2="677.7" y2="223.72" stroke="rgba(255,255,255,0.085)" stroke-width="1"/><line x1="64.5" y1="61.0" x2="64.5" y2="229.0" stroke="rgba(255,255,255,0.085)" stroke-width="1"/><line x1="141.5" y1="61.0" x2="141.5" y2="229.0" stroke="rgba(255,255,255,0.085)" stroke-width="1"/><line x1="217.5" y1="61.0" x2="217.5" y2="229.0" stroke="rgba(255,255,255,0.085)" stroke-width="1"/><line x1="294.5" y1="61.0" x2="294.5" y2="229.0" stroke="rgba(255,255,255,0.085)" stroke-width="1"/><line x1="371.5" y1="61.0" x2="371.5" y2="229.0" stroke="rgba(255,255,255,0.085)" stroke-width="1"/><line x1="447.5" y1="61.0" x2="447.5" y2="229.0" stroke="rgba(255,255,255,0.085)" stroke-width="1"/><line x1="524.5" y1="61.0" x2="524.5" y2="229.0" stroke="rgba(255,255,255,0.085)" stroke-width="1"/><line x1="601.5" y1="61.0" x2="601.5" y2="229.0" stroke="rgba(255,255,255,0.085)" stroke-width="1"/><rect x="674.0" y="250" width="13.2" height="108" fill="#2b2b2e"/><path d="M676.4 263.5 L680.6 257.5 L684.8 263.5 Z" fill="#a3a3a3"/><rect x="677.1" y="269" width="7" height="14.5" rx="3.5" fill="#9d9d9d"/><path d="M676.4 346.6 L680.6 352.6 L684.8 346.6 Z" fill="#a3a3a3"/></svg><svg style="top:0px" class="ps ov" width="699" height="371" viewBox="0 0 699 371"><text transform="translate(57.70 88.34) scale(1.02 1)" font-size="15.7" fill="#c8c8d4" text-anchor="end" class="ax">4 MiB</text><text transform="translate(57.70 123.56) scale(1.02 1)" font-size="15.7" fill="#c8c8d4" text-anchor="end" class="ax">3 MiB</text><text transform="translate(57.70 158.63) scale(1.02 1)" font-size="15.7" fill="#c8c8d4" text-anchor="end" class="ax">2 MiB</text><text transform="translate(57.70 193.25) scale(1.02 1)" font-size="15.7" fill="#c8c8d4" text-anchor="end" class="ax">1 MiB</text><text transform="translate(57.70 228.32) scale(1.02 1)" font-size="15.7" fill="#c8c8d4" text-anchor="end" class="ax">0 B</text><text transform="translate(64.40 246.50) scale(1.02 1)" font-size="15.7" fill="#c8c8d4" text-anchor="middle" letter-spacing="0.55" class="ax">00:00</text><text transform="translate(141.06 246.50) scale(1.02 1)" font-size="15.7" fill="#c8c8d4" text-anchor="middle" letter-spacing="0.55" class="ax">03:00</text><text transform="translate(217.73 246.50) scale(1.02 1)" font-size="15.7" fill="#c8c8d4" text-anchor="middle" letter-spacing="0.55" class="ax">06:00</text><text transform="translate(294.39 246.50) scale(1.02 1)" font-size="15.7" fill="#c8c8d4" text-anchor="middle" letter-spacing="0.55" class="ax">09:00</text><text transform="translate(371.05 246.50) scale(1.02 1)" font-size="15.7" fill="#c8c8d4" text-anchor="middle" letter-spacing="0.55" class="ax">12:00</text><text transform="translate(447.71 246.50) scale(1.02 1)" font-size="15.7" fill="#c8c8d4" text-anchor="middle" letter-spacing="0.55" class="ax">15:00</text><text transform="translate(524.38 246.50) scale(1.02 1)" font-size="15.7" fill="#c8c8d4" text-anchor="middle" letter-spacing="0.55" class="ax">18:00</text><text transform="translate(601.04 246.50) scale(1.02 1)" font-size="15.7" fill="#c8c8d4" text-anchor="middle" letter-spacing="0.55" class="ax">21:00</text><svg x="0" y="0" width="699" height="358.5" overflow="hidden"><text transform="translate(48.80 269.60) scale(1.053 1)" font-size="15.2" fill="#6e9fff" class="lg" stroke="#6e9fff">Name</text><text transform="translate(404.10 269.60) scale(1.053 1)" font-size="15.2" fill="#6e9fff" text-anchor="end" class="lg" stroke="#6e9fff">Mean</text><text transform="translate(494.40 269.60) scale(1.053 1)" font-size="15.2" fill="#6e9fff" text-anchor="end" class="lg" stroke="#6e9fff">Last *</text><text transform="translate(573.10 269.60) scale(1.053 1)" font-size="15.2" fill="#6e9fff" text-anchor="end" class="lg" stroke="#6e9fff">Max</text><text transform="translate(654.20 269.60) scale(1.053 1)" font-size="15.2" fill="#6e9fff" text-anchor="end" class="lg" stroke="#6e9fff">Min</text><rect x="11" y="279" width="663.0" height="1" fill="#2c2e33"/><rect x="21" y="292.0" width="18" height="5" rx="2.5" fill="#73bf69"/><text transform="translate(48.80 300.00) scale(1.053 1)" font-size="15.2" fill="#ccccdc" class="lg" stroke="#ccccdc">Used</text><text transform="translate(404.10 300.00) scale(1.053 1)" font-size="15.2" fill="#ccccdc" text-anchor="end" class="lg" stroke="#ccccdc">298 KiB</text><text transform="translate(494.40 300.00) scale(1.053 1)" font-size="15.2" fill="#ccccdc" text-anchor="end" class="lg" stroke="#ccccdc">86.6 KiB</text><text transform="translate(579.80 300.00) scale(1.053 1)" font-size="15.2" fill="#ccccdc" text-anchor="end" class="lg" stroke="#ccccdc">582 KiB</text><text transform="translate(664.60 300.00) scale(1.053 1)" font-size="15.2" fill="#ccccdc" text-anchor="end" class="lg" stroke="#ccccdc">61.2 KiB</text><rect x="11" y="309.0" width="663.0" height="1" fill="#2c2e33"/><rect x="21" y="322.0" width="18" height="5" rx="2.5" fill="#f2cc0c"/><text transform="translate(48.80 330.00) scale(1.053 1)" font-size="15.2" fill="#ccccdc" class="lg" stroke="#ccccdc">Used</text><text transform="translate(404.10 330.00) scale(1.053 1)" font-size="15.2" fill="#ccccdc" text-anchor="end" class="lg" stroke="#ccccdc">288 KiB</text><text transform="translate(494.40 330.00) scale(1.053 1)" font-size="15.2" fill="#ccccdc" text-anchor="end" class="lg" stroke="#ccccdc">83.2 KiB</text><text transform="translate(579.80 330.00) scale(1.053 1)" font-size="15.2" fill="#ccccdc" text-anchor="end" class="lg" stroke="#ccccdc">564 KiB</text><text transform="translate(664.60 330.00) scale(1.053 1)" font-size="15.2" fill="#ccccdc" text-anchor="end" class="lg" stroke="#ccccdc">38.3 KiB</text><rect x="11" y="339.0" width="663.0" height="1" fill="#2c2e33"/><rect x="21" y="352.0" width="18" height="5" rx="2.5" fill="#8ab8ff"/><text transform="translate(48.80 360.00) scale(1.053 1)" font-size="15.2" fill="#ccccdc" class="lg" stroke="#ccccdc">Used</text><text transform="translate(404.10 360.00) scale(1.053 1)" font-size="15.2" fill="#ccccdc" text-anchor="end" class="lg" stroke="#ccccdc">138 KiB</text><text transform="translate(494.40 360.00) scale(1.053 1)" font-size="15.2" fill="#ccccdc" text-anchor="end" class="lg" stroke="#ccccdc">71.7 KiB</text><text transform="translate(579.80 360.00) scale(1.053 1)" font-size="15.2" fill="#ccccdc" text-anchor="end" class="lg" stroke="#ccccdc">1.19 MiB</text><text transform="translate(664.60 360.00) scale(1.053 1)" font-size="15.2" fill="#ccccdc" text-anchor="end" class="lg" stroke="#ccccdc">31.4 KiB</text></svg></svg></div><div class="panel" style="left:1427px;top:47px;width:698px;height:371px"><svg style="top:0px" class="ps" width="698" height="371" viewBox="0 0 698 371"><text x="11.00" y="27.00" font-size="18" fill="#ccccdc" class="pt" textLength="168.3" lengthAdjust="spacing">Tenured Gen (heap)</text><rect x="447.00" y="74.80" width="158.40" height="149.20" fill="#433a36"/><rect x="605.40" y="74.80" width="72.40" height="149.20" fill="#66524a"/><rect x="447.00" y="191.10" width="158.40" height="32.90" fill="#614840"/><rect x="605.40" y="191.10" width="72.40" height="32.90" fill="#8a6e60"/><rect x="447.00" y="207.30" width="158.40" height="16.70" fill="#785856"/><rect x="605.40" y="207.30" width="72.40" height="16.70" fill="#967a68"/><rect x="447.00" y="192.10" width="158.40" height="1.80" fill="#8a4868" fill-opacity="0.85"/><rect x="605.40" y="192.10" width="72.40" height="1.80" fill="#a07078" fill-opacity="0.6"/><line x1="447.00" y1="207.30" x2="542.00" y2="207.30" stroke="#a87498" stroke-width="1.5"/><line x1="542.00" y1="206.30" x2="553.00" y2="206.30" stroke="#a0a8d0" stroke-width="1.5"/><line x1="553.00" y1="206.80" x2="605.40" y2="206.80" stroke="#c85c64" stroke-width="1.5"/><path d="M605.4 207.6 L671.8 207.4 L673.8 206.1 L677.8 206.1" fill="none" stroke="#d0aa50" stroke-width="1.1" stroke-linejoin="round"/><line x1="447.00" y1="191.10" x2="605.40" y2="191.10" stroke="#e2b07c" stroke-width="1.8"/><line x1="605.40" y1="191.10" x2="677.80" y2="191.10" stroke="#dcae90" stroke-width="1.8"/><rect x="657.80" y="75.80" width="2.00" height="148.20" fill="#ffffff" fill-opacity="0.06"/><line x1="447.00" y1="74.80" x2="605.40" y2="74.80" stroke="#cf7a3a" stroke-width="2"/><line x1="605.40" y1="74.80" x2="677.80" y2="74.80" stroke="#2a5a9c" stroke-width="2"/><line x1="74.6" y1="85.24" x2="677.8" y2="85.24" stroke="rgba(255,255,255,0.085)" stroke-width="1"/><line x1="74.6" y1="116.10" x2="677.8" y2="116.10" stroke="rgba(255,255,255,0.085)" stroke-width="1"/><line x1="74.6" y1="146.05" x2="677.8" y2="146.05" stroke="rgba(255,255,255,0.085)" stroke-width="1"/><line x1="74.6" y1="177.06" x2="677.8" y2="177.06" stroke="rgba(255,255,255,0.085)" stroke-width="1"/><line x1="74.6" y1="207.16" x2="677.8" y2="207.16" stroke="rgba(255,255,255,0.085)" stroke-width="1"/><line x1="74.5" y1="61.0" x2="74.5" y2="229.0" stroke="rgba(255,255,255,0.085)" stroke-width="1"/><line x1="150.5" y1="61.0" x2="150.5" y2="229.0" stroke="rgba(255,255,255,0.085)" stroke-width="1"/><line x1="225.5" y1="61.0" x2="225.5" y2="229.0" stroke="rgba(255,255,255,0.085)" stroke-width="1"/><line x1="300.5" y1="61.0" x2="300.5" y2="229.0" stroke="rgba(255,255,255,0.085)" stroke-width="1"/><line x1="376.5" y1="61.0" x2="376.5" y2="229.0" stroke="rgba(255,255,255,0.085)" stroke-width="1"/><line x1="451.5" y1="61.0" x2="451.5" y2="229.0" stroke="rgba(255,255,255,0.085)" stroke-width="1"/><line x1="527.5" y1="61.0" x2="527.5" y2="229.0" stroke="rgba(255,255,255,0.085)" stroke-width="1"/><line x1="602.5" y1="61.0" x2="602.5" y2="229.0" stroke="rgba(255,255,255,0.085)" stroke-width="1"/><rect x="674.0" y="250" width="13.2" height="108" fill="#2b2b2e"/><path d="M676.4 263.5 L680.6 257.5 L684.8 263.5 Z" fill="#a3a3a3"/><rect x="677.1" y="269" width="7" height="14.5" rx="3.5" fill="#9d9d9d"/><path d="M676.4 346.6 L680.6 352.6 L684.8 346.6 Z" fill="#a3a3a3"/></svg><svg style="top:0px" class="ps ov" width="698" height="371" viewBox="0 0 698 371"><text transform="translate(67.20 89.84) scale(1.02 1)" font-size="15.7" fill="#c8c8d4" text-anchor="end" class="ax">80 MiB</text><text transform="translate(67.20 120.70) scale(1.02 1)" font-size="15.7" fill="#c8c8d4" text-anchor="end" class="ax">64 MiB</text><text transform="translate(67.20 150.65) scale(1.02 1)" font-size="15.7" fill="#c8c8d4" text-anchor="end" class="ax">48 MiB</text><text transform="translate(67.20 181.66) scale(1.02 1)" font-size="15.7" fill="#c8c8d4" text-anchor="end" class="ax">32 MiB</text><text transform="translate(67.20 211.76) scale(1.02 1)" font-size="15.7" fill="#c8c8d4" text-anchor="end" class="ax">16 MiB</text><text transform="translate(74.60 246.50) scale(1.02 1)" font-size="15.7" fill="#c8c8d4" text-anchor="middle" letter-spacing="0.55" class="ax">00:00</text><text transform="translate(150.00 246.50) scale(1.02 1)" font-size="15.7" fill="#c8c8d4" text-anchor="middle" letter-spacing="0.55" class="ax">03:00</text><text transform="translate(225.40 246.50) scale(1.02 1)" font-size="15.7" fill="#c8c8d4" text-anchor="middle" letter-spacing="0.55" class="ax">06:00</text><text transform="translate(300.80 246.50) scale(1.02 1)" font-size="15.7" fill="#c8c8d4" text-anchor="middle" letter-spacing="0.55" class="ax">09:00</text><text transform="translate(376.20 246.50) scale(1.02 1)" font-size="15.7" fill="#c8c8d4" text-anchor="middle" letter-spacing="0.55" class="ax">12:00</text><text transform="translate(451.60 246.50) scale(1.02 1)" font-size="15.7" fill="#c8c8d4" text-anchor="middle" letter-spacing="0.55" class="ax">15:00</text><text transform="translate(527.00 246.50) scale(1.02 1)" font-size="15.7" fill="#c8c8d4" text-anchor="middle" letter-spacing="0.55" class="ax">18:00</text><text transform="translate(602.40 246.50) scale(1.02 1)" font-size="15.7" fill="#c8c8d4" text-anchor="middle" letter-spacing="0.55" class="ax">21:00</text><svg x="0" y="0" width="698" height="358.5" overflow="hidden"><text transform="translate(48.80 269.60) scale(1.053 1)" font-size="15.2" fill="#6e9fff" class="lg" stroke="#6e9fff">Name</text><text transform="translate(402.50 269.60) scale(1.053 1)" font-size="15.2" fill="#6e9fff" text-anchor="end" class="lg" stroke="#6e9fff">Mean</text><text transform="translate(492.80 269.60) scale(1.053 1)" font-size="15.2" fill="#6e9fff" text-anchor="end" class="lg" stroke="#6e9fff">Last *</text><text transform="translate(571.50 269.60) scale(1.053 1)" font-size="15.2" fill="#6e9fff" text-anchor="end" class="lg" stroke="#6e9fff">Max</text><text transform="translate(652.60 269.60) scale(1.053 1)" font-size="15.2" fill="#6e9fff" text-anchor="end" class="lg" stroke="#6e9fff">Min</text><rect x="11" y="279" width="663.0" height="1" fill="#2c2e33"/><rect x="21" y="292.0" width="18" height="5" rx="2.5" fill="#73bf69"/><text transform="translate(48.80 300.00) scale(1.053 1)" font-size="15.2" fill="#ccccdc" class="lg" stroke="#ccccdc">Used</text><text transform="translate(402.50 300.00) scale(1.053 1)" font-size="15.2" fill="#ccccdc" text-anchor="end" class="lg" stroke="#ccccdc">16.3 MiB</text><text transform="translate(492.80 300.00) scale(1.053 1)" font-size="15.2" fill="#ccccdc" text-anchor="end" class="lg" stroke="#ccccdc">16.5 MiB</text><text transform="translate(578.20 300.00) scale(1.053 1)" font-size="15.2" fill="#ccccdc" text-anchor="end" class="lg" stroke="#ccccdc">16.5 MiB</text><text transform="translate(663.00 300.00) scale(1.053 1)" font-size="15.2" fill="#ccccdc" text-anchor="end" class="lg" stroke="#ccccdc">16.0 MiB</text><rect x="11" y="309.0" width="663.0" height="1" fill="#2c2e33"/><rect x="21" y="322.0" width="18" height="5" rx="2.5" fill="#f2cc0c"/><text transform="translate(48.80 330.00) scale(1.053 1)" font-size="15.2" fill="#ccccdc" class="lg" stroke="#ccccdc">Used</text><text transform="translate(402.50 330.00) scale(1.053 1)" font-size="15.2" fill="#ccccdc" text-anchor="end" class="lg" stroke="#ccccdc">16.3 MiB</text><text transform="translate(492.80 330.00) scale(1.053 1)" font-size="15.2" fill="#ccccdc" text-anchor="end" class="lg" stroke="#ccccdc">16.5 MiB</text><text transform="translate(578.20 330.00) scale(1.053 1)" font-size="15.2" fill="#ccccdc" text-anchor="end" class="lg" stroke="#ccccdc">16.5 MiB</text><text transform="translate(663.00 330.00) scale(1.053 1)" font-size="15.2" fill="#ccccdc" text-anchor="end" class="lg" stroke="#ccccdc">16.0 MiB</text><rect x="11" y="339.0" width="663.0" height="1" fill="#2c2e33"/><rect x="21" y="352.0" width="18" height="5" rx="2.5" fill="#8ab8ff"/><text transform="translate(48.80 360.00) scale(1.053 1)" font-size="15.2" fill="#ccccdc" class="lg" stroke="#ccccdc">Used</text><text transform="translate(402.50 360.00) scale(1.053 1)" font-size="15.2" fill="#ccccdc" text-anchor="end" class="lg" stroke="#ccccdc">16.5 MiB</text><text transform="translate(492.80 360.00) scale(1.053 1)" font-size="15.2" fill="#ccccdc" text-anchor="end" class="lg" stroke="#ccccdc">16.6 MiB</text><text transform="translate(578.20 360.00) scale(1.053 1)" font-size="15.2" fill="#ccccdc" text-anchor="end" class="lg" stroke="#ccccdc">16.6 MiB</text><text transform="translate(663.00 360.00) scale(1.053 1)" font-size="15.2" fill="#ccccdc" text-anchor="end" class="lg" stroke="#ccccdc">14.9 MiB</text></svg></svg></div><div class="panel" style="left:9px;top:428px;width:522px;height:370px"><svg class="ps" width="522" height="370" viewBox="0 0 522 370"><text x="11.00" y="27.00" font-size="18" fill="#ccccdc" class="pt" textLength="331.8" lengthAdjust="spacing">CodeHeap &#39;non-nmethods&#39; (non-heap)</text><rect x="333.40" y="75.00" width="114.00" height="149.00" fill="#433a36"/><rect x="447.40" y="75.00" width="52.20" height="149.00" fill="#66524a"/><rect x="333.40" y="172.20" width="114.00" height="51.80" fill="#634a40"/><rect x="447.40" y="172.20" width="52.20" height="51.80" fill="#8a6e60"/><rect x="333.40" y="209.00" width="114.00" height="15.00" fill="#7a5a58"/><rect x="447.40" y="209.00" width="52.20" height="15.00" fill="#967a68"/><line x1="333.40" y1="209.00" x2="447.40" y2="209.00" stroke="#a87090" stroke-width="2"/><line x1="447.40" y1="209.00" x2="499.60" y2="209.00" stroke="#c8a870" stroke-width="2"/><line x1="333.40" y1="172.20" x2="447.40" y2="172.20" stroke="#e2b07c" stroke-width="2"/><line x1="447.40" y1="172.20" x2="499.60" y2="172.20" stroke="#dcae90" stroke-width="2"/><rect x="485.60" y="76.00" width="2.00" height="148.00" fill="#ffffff" fill-opacity="0.07"/><line x1="333.40" y1="75.00" x2="447.40" y2="75.00" stroke="#cf7a3a" stroke-width="2"/><line x1="447.40" y1="75.00" x2="499.60" y2="75.00" stroke="#2a5a9c" stroke-width="2"/><line x1="64.3" y1="60.80" x2="499.6" y2="60.80" stroke="rgba(255,255,255,0.085)" stroke-width="1"/><line x1="64.3" y1="91.96" x2="499.6" y2="91.96" stroke="rgba(255,255,255,0.085)" stroke-width="1"/><line x1="64.3" y1="122.77" x2="499.6" y2="122.77" stroke="rgba(255,255,255,0.085)" stroke-width="1"/><line x1="64.3" y1="153.93" x2="499.6" y2="153.93" stroke="rgba(255,255,255,0.085)" stroke-width="1"/><line x1="64.3" y1="185.08" x2="499.6" y2="185.08" stroke="rgba(255,255,255,0.085)" stroke-width="1"/><line x1="64.3" y1="215.90" x2="499.6" y2="215.90" stroke="rgba(255,255,255,0.085)" stroke-width="1"/><line x1="64.5" y1="61.0" x2="64.5" y2="229.0" stroke="rgba(255,255,255,0.085)" stroke-width="1"/><line x1="136.5" y1="61.0" x2="136.5" y2="229.0" stroke="rgba(255,255,255,0.085)" stroke-width="1"/><line x1="209.5" y1="61.0" x2="209.5" y2="229.0" stroke="rgba(255,255,255,0.085)" stroke-width="1"/><line x1="281.5" y1="61.0" x2="281.5" y2="229.0" stroke="rgba(255,255,255,0.085)" stroke-width="1"/><line x1="354.5" y1="61.0" x2="354.5" y2="229.0" stroke="rgba(255,255,255,0.085)" stroke-width="1"/><line x1="427.5" y1="61.0" x2="427.5" y2="229.0" stroke="rgba(255,255,255,0.085)" stroke-width="1"/><rect x="497.8" y="250" width="11.5" height="108" fill="#2b2b2e"/><path d="M499.4 263.5 L503.6 257.5 L507.8 263.5 Z" fill="#a3a3a3"/><rect x="500.1" y="269" width="7" height="14.5" rx="3.5" fill="#9d9d9d"/><path d="M499.4 346.6 L503.6 352.6 L507.8 346.6 Z" fill="#a3a3a3"/></svg><svg class="ps ov" width="522" height="370" viewBox="0 0 522 370"><text transform="translate(57.50 65.40) scale(1.02 1)" font-size="15.7" fill="#c8c8d4" text-anchor="end" class="ax">6 MiB</text><text transform="translate(57.50 96.56) scale(1.02 1)" font-size="15.7" fill="#c8c8d4" text-anchor="end" class="ax">5 MiB</text><text transform="translate(57.50 127.37) scale(1.02 1)" font-size="15.7" fill="#c8c8d4" text-anchor="end" class="ax">4 MiB</text><text transform="translate(57.50 158.53) scale(1.02 1)" font-size="15.7" fill="#c8c8d4" text-anchor="end" class="ax">3 MiB</text><text transform="translate(57.50 189.68) scale(1.02 1)" font-size="15.7" fill="#c8c8d4" text-anchor="end" class="ax">2 MiB</text><text transform="translate(57.50 220.50) scale(1.02 1)" font-size="15.7" fill="#c8c8d4" text-anchor="end" class="ax">1 MiB</text><text transform="translate(64.30 246.50) scale(1.02 1)" font-size="15.7" fill="#c8c8d4" text-anchor="middle" letter-spacing="0.55" class="ax">00:00</text><text transform="translate(136.85 246.50) scale(1.02 1)" font-size="15.7" fill="#c8c8d4" text-anchor="middle" letter-spacing="0.55" class="ax">04:00</text><text transform="translate(209.40 246.50) scale(1.02 1)" font-size="15.7" fill="#c8c8d4" text-anchor="middle" letter-spacing="0.55" class="ax">08:00</text><text transform="translate(281.95 246.50) scale(1.02 1)" font-size="15.7" fill="#c8c8d4" text-anchor="middle" letter-spacing="0.55" class="ax">12:00</text><text transform="translate(354.50 246.50) scale(1.02 1)" font-size="15.7" fill="#c8c8d4" text-anchor="middle" letter-spacing="0.55" class="ax">16:00</text><text transform="translate(427.05 246.50) scale(1.02 1)" font-size="15.7" fill="#c8c8d4" text-anchor="middle" letter-spacing="0.55" class="ax">20:00</text><svg x="0" y="0" width="522" height="358.5" overflow="hidden"><text transform="translate(48.90 269.60) scale(1.053 1)" font-size="15.2" fill="#6e9fff" class="lg" stroke="#6e9fff">Name</text><text transform="translate(224.70 269.60) scale(1.053 1)" font-size="15.2" fill="#6e9fff" text-anchor="end" class="lg" stroke="#6e9fff">Mean</text><text transform="translate(314.80 269.60) scale(1.053 1)" font-size="15.2" fill="#6e9fff" text-anchor="end" class="lg" stroke="#6e9fff">Last *</text><text transform="translate(393.80 269.60) scale(1.053 1)" font-size="15.2" fill="#6e9fff" text-anchor="end" class="lg" stroke="#6e9fff">Max</text><text transform="translate(475.30 269.60) scale(1.053 1)" font-size="15.2" fill="#6e9fff" text-anchor="end" class="lg" stroke="#6e9fff">Min</text><rect x="11" y="279" width="486.8" height="1" fill="#2c2e33"/><rect x="21" y="292.0" width="18" height="5" rx="2.5" fill="#73bf69"/><text transform="translate(48.90 300.00) scale(1.053 1)" font-size="15.2" fill="#ccccdc" class="lg" stroke="#ccccdc">Used</text><text transform="translate(224.70 300.00) scale(1.053 1)" font-size="15.2" fill="#ccccdc" text-anchor="end" class="lg" stroke="#ccccdc">1.23 MiB</text><text transform="translate(315.50 300.00) scale(1.053 1)" font-size="15.2" fill="#ccccdc" text-anchor="end" class="lg" stroke="#ccccdc">1.23 MiB</text><text transform="translate(401.00 300.00) scale(1.053 1)" font-size="15.2" fill="#ccccdc" text-anchor="end" class="lg" stroke="#ccccdc">1.23 MiB</text><text transform="translate(486.40 300.00) scale(1.053 1)" font-size="15.2" fill="#ccccdc" text-anchor="end" class="lg" stroke="#ccccdc">1.23 MiB</text><rect x="11" y="309.0" width="486.8" height="1" fill="#2c2e33"/><rect x="21" y="322.0" width="18" height="5" rx="2.5" fill="#f2cc0c"/><text transform="translate(48.90 330.00) scale(1.053 1)" font-size="15.2" fill="#ccccdc" class="lg" stroke="#ccccdc">Used</text><text transform="translate(224.70 330.00) scale(1.053 1)" font-size="15.2" fill="#ccccdc" text-anchor="end" class="lg" stroke="#ccccdc">1.23 MiB</text><text transform="translate(315.50 330.00) scale(1.053 1)" font-size="15.2" fill="#ccccdc" text-anchor="end" class="lg" stroke="#ccccdc">1.23 MiB</text><text transform="translate(401.00 330.00) scale(1.053 1)" font-size="15.2" fill="#ccccdc" text-anchor="end" class="lg" stroke="#ccccdc">1.24 MiB</text><text transform="translate(486.40 330.00) scale(1.053 1)" font-size="15.2" fill="#ccccdc" text-anchor="end" class="lg" stroke="#ccccdc">1.23 MiB</text><rect x="11" y="339.0" width="486.8" height="1" fill="#2c2e33"/><rect x="21" y="352.0" width="18" height="5" rx="2.5" fill="#8ab8ff"/><text transform="translate(48.90 360.00) scale(1.053 1)" font-size="15.2" fill="#ccccdc" class="lg" stroke="#ccccdc">Used</text><text transform="translate(224.70 360.00) scale(1.053 1)" font-size="15.2" fill="#ccccdc" text-anchor="end" class="lg" stroke="#ccccdc">1.23 MiB</text><text transform="translate(315.50 360.00) scale(1.053 1)" font-size="15.2" fill="#ccccdc" text-anchor="end" class="lg" stroke="#ccccdc">1.23 MiB</text><text transform="translate(401.00 360.00) scale(1.053 1)" font-size="15.2" fill="#ccccdc" text-anchor="end" class="lg" stroke="#ccccdc">1.23 MiB</text><text transform="translate(486.40 360.00) scale(1.053 1)" font-size="15.2" fill="#ccccdc" text-anchor="end" class="lg" stroke="#ccccdc">1.23 MiB</text></svg></svg></div><div class="panel" style="left:541px;top:428px;width:521px;height:370px"><svg class="ps" width="521" height="370" viewBox="0 0 521 370"><text x="11.00" y="27.00" font-size="18" fill="#ccccdc" class="pt" textLength="402.5" lengthAdjust="spacing">CodeHeap &#39;non-profiled nmethods&#39; (non-heap)</text><rect x="338.50" y="80.60" width="110.10" height="142.90" fill="#433a36"/><rect x="448.60" y="80.60" width="50.00" height="142.90" fill="#66524a"/><rect x="338.50" y="220.00" width="110.10" height="3.50" fill="#7a5a58"/><rect x="448.60" y="220.00" width="50.00" height="3.50" fill="#a08068"/><rect x="342.50" y="220.20" width="106.10" height="1.40" fill="#b06a86" fill-opacity="0.6"/><path d="M338.5 221.3 L340.5 221.0 L342.5 219.6 L400.5 219.6 L401.5 218.6 L448.6 218.6" fill="none" stroke="#e8b888" stroke-width="1.4" stroke-linejoin="round"/><path d="M448.6 218.8 L498.6 218.6" fill="none" stroke="#e8b488" stroke-width="1.4" stroke-linejoin="round"/><rect x="484.60" y="81.60" width="2.00" height="141.90" fill="#ffffff" fill-opacity="0.05"/><line x1="338.50" y1="80.60" x2="448.60" y2="80.60" stroke="#cf7a3a" stroke-width="2"/><line x1="448.60" y1="80.60" x2="498.60" y2="80.60" stroke="#2a5a9c" stroke-width="2"/><line x1="79.4" y1="67.75" x2="499.5" y2="67.75" stroke="rgba(255,255,255,0.085)" stroke-width="1"/><line x1="79.4" y1="87.22" x2="499.5" y2="87.22" stroke="rgba(255,255,255,0.085)" stroke-width="1"/><line x1="79.4" y1="106.86" x2="499.5" y2="106.86" stroke="rgba(255,255,255,0.085)" stroke-width="1"/><line x1="79.4" y1="125.99" x2="499.5" y2="125.99" stroke="rgba(255,255,255,0.085)" stroke-width="1"/><line x1="79.4" y1="145.63" x2="499.5" y2="145.63" stroke="rgba(255,255,255,0.085)" stroke-width="1"/><line x1="79.4" y1="164.60" x2="499.5" y2="164.60" stroke="rgba(255,255,255,0.085)" stroke-width="1"/><line x1="79.4" y1="184.58" x2="499.5" y2="184.58" stroke="rgba(255,255,255,0.085)" stroke-width="1"/><line x1="79.4" y1="203.88" x2="499.5" y2="203.88" stroke="rgba(255,255,255,0.085)" stroke-width="1"/><line x1="79.4" y1="223.52" x2="499.5" y2="223.52" stroke="rgba(255,255,255,0.085)" stroke-width="1"/><line x1="79.5" y1="61.0" x2="79.5" y2="229.0" stroke="rgba(255,255,255,0.085)" stroke-width="1"/><line x1="149.5" y1="61.0" x2="149.5" y2="229.0" stroke="rgba(255,255,255,0.085)" stroke-width="1"/><line x1="219.5" y1="61.0" x2="219.5" y2="229.0" stroke="rgba(255,255,255,0.085)" stroke-width="1"/><line x1="289.5" y1="61.0" x2="289.5" y2="229.0" stroke="rgba(255,255,255,0.085)" stroke-width="1"/><line x1="359.5" y1="61.0" x2="359.5" y2="229.0" stroke="rgba(255,255,255,0.085)" stroke-width="1"/><line x1="429.5" y1="61.0" x2="429.5" y2="229.0" stroke="rgba(255,255,255,0.085)" stroke-width="1"/><rect x="497.8" y="250" width="11.5" height="108" fill="#2b2b2e"/><path d="M499.4 263.5 L503.6 257.5 L507.8 263.5 Z" fill="#a3a3a3"/><rect x="500.1" y="269" width="7" height="14.5" rx="3.5" fill="#9d9d9d"/><path d="M499.4 346.6 L503.6 352.6 L507.8 346.6 Z" fill="#a3a3a3"/></svg><svg class="ps ov" width="521" height="370" viewBox="0 0 521 370"><text transform="translate(72.70 72.35) scale(1.02 1)" font-size="15.7" fill="#c8c8d4" text-anchor="end" class="ax">128 MiB</text><text transform="translate(72.70 91.82) scale(1.02 1)" font-size="15.7" fill="#c8c8d4" text-anchor="end" class="ax">112 MiB</text><text transform="translate(72.70 111.46) scale(1.02 1)" font-size="15.7" fill="#c8c8d4" text-anchor="end" class="ax">96 MiB</text><text transform="translate(72.70 130.59) scale(1.02 1)" font-size="15.7" fill="#c8c8d4" text-anchor="end" class="ax">80 MiB</text><text transform="translate(72.70 150.23) scale(1.02 1)" font-size="15.7" fill="#c8c8d4" text-anchor="end" class="ax">64 MiB</text><text transform="translate(72.70 169.20) scale(1.02 1)" font-size="15.7" fill="#c8c8d4" text-anchor="end" class="ax">48 MiB</text><text transform="translate(72.70 189.18) scale(1.02 1)" font-size="15.7" fill="#c8c8d4" text-anchor="end" class="ax">32 MiB</text><text transform="translate(72.70 208.48) scale(1.02 1)" font-size="15.7" fill="#c8c8d4" text-anchor="end" class="ax">16 MiB</text><text transform="translate(72.70 228.12) scale(1.02 1)" font-size="15.7" fill="#c8c8d4" text-anchor="end" class="ax">0 B</text><text transform="translate(79.40 246.50) scale(1.02 1)" font-size="15.7" fill="#c8c8d4" text-anchor="middle" letter-spacing="0.55" class="ax">00:00</text><text transform="translate(149.42 246.50) scale(1.02 1)" font-size="15.7" fill="#c8c8d4" text-anchor="middle" letter-spacing="0.55" class="ax">04:00</text><text transform="translate(219.43 246.50) scale(1.02 1)" font-size="15.7" fill="#c8c8d4" text-anchor="middle" letter-spacing="0.55" class="ax">08:00</text><text transform="translate(289.45 246.50) scale(1.02 1)" font-size="15.7" fill="#c8c8d4" text-anchor="middle" letter-spacing="0.55" class="ax">12:00</text><text transform="translate(359.47 246.50) scale(1.02 1)" font-size="15.7" fill="#c8c8d4" text-anchor="middle" letter-spacing="0.55" class="ax">16:00</text><text transform="translate(429.48 246.50) scale(1.02 1)" font-size="15.7" fill="#c8c8d4" text-anchor="middle" letter-spacing="0.55" class="ax">20:00</text><svg x="0" y="0" width="521" height="358.5" overflow="hidden"><text transform="translate(48.90 269.60) scale(1.053 1)" font-size="15.2" fill="#6e9fff" class="lg" stroke="#6e9fff">Name</text><text transform="translate(224.20 269.60) scale(1.053 1)" font-size="15.2" fill="#6e9fff" text-anchor="end" class="lg" stroke="#6e9fff">Mean</text><text transform="translate(314.20 269.60) scale(1.053 1)" font-size="15.2" fill="#6e9fff" text-anchor="end" class="lg" stroke="#6e9fff">Last *</text><text transform="translate(393.20 269.60) scale(1.053 1)" font-size="15.2" fill="#6e9fff" text-anchor="end" class="lg" stroke="#6e9fff">Max</text><text transform="translate(475.00 269.60) scale(1.053 1)" font-size="15.2" fill="#6e9fff" text-anchor="end" class="lg" stroke="#6e9fff">Min</text><rect x="11" y="279" width="486.8" height="1" fill="#2c2e33"/><rect x="21" y="292.0" width="18" height="5" rx="2.5" fill="#73bf69"/><text transform="translate(48.90 300.00) scale(1.053 1)" font-size="15.2" fill="#ccccdc" class="lg" stroke="#ccccdc">Used</text><text transform="translate(224.20 300.00) scale(1.053 1)" font-size="15.2" fill="#ccccdc" text-anchor="end" class="lg" stroke="#ccccdc">2.49 MiB</text><text transform="translate(315.00 300.00) scale(1.053 1)" font-size="15.2" fill="#ccccdc" text-anchor="end" class="lg" stroke="#ccccdc">2.85 MiB</text><text transform="translate(400.40 300.00) scale(1.053 1)" font-size="15.2" fill="#ccccdc" text-anchor="end" class="lg" stroke="#ccccdc">2.85 MiB</text><text transform="translate(485.80 300.00) scale(1.053 1)" font-size="15.2" fill="#ccccdc" text-anchor="end" class="lg" stroke="#ccccdc">1.92 MiB</text><rect x="11" y="309.0" width="486.8" height="1" fill="#2c2e33"/><rect x="21" y="322.0" width="18" height="5" rx="2.5" fill="#f2cc0c"/><text transform="translate(48.90 330.00) scale(1.053 1)" font-size="15.2" fill="#ccccdc" class="lg" stroke="#ccccdc">Used</text><text transform="translate(224.20 330.00) scale(1.053 1)" font-size="15.2" fill="#ccccdc" text-anchor="end" class="lg" stroke="#ccccdc">2.53 MiB</text><text transform="translate(315.00 330.00) scale(1.053 1)" font-size="15.2" fill="#ccccdc" text-anchor="end" class="lg" stroke="#ccccdc">2.89 MiB</text><text transform="translate(400.40 330.00) scale(1.053 1)" font-size="15.2" fill="#ccccdc" text-anchor="end" class="lg" stroke="#ccccdc">2.89 MiB</text><text transform="translate(485.80 330.00) scale(1.053 1)" font-size="15.2" fill="#ccccdc" text-anchor="end" class="lg" stroke="#ccccdc">2.00 MiB</text><rect x="11" y="339.0" width="486.8" height="1" fill="#2c2e33"/><rect x="21" y="352.0" width="18" height="5" rx="2.5" fill="#8ab8ff"/><text transform="translate(48.90 360.00) scale(1.053 1)" font-size="15.2" fill="#ccccdc" class="lg" stroke="#ccccdc">Used</text><text transform="translate(224.20 360.00) scale(1.053 1)" font-size="15.2" fill="#ccccdc" text-anchor="end" class="lg" stroke="#ccccdc">3.24 MiB</text><text transform="translate(315.00 360.00) scale(1.053 1)" font-size="15.2" fill="#ccccdc" text-anchor="end" class="lg" stroke="#ccccdc">3.92 MiB</text><text transform="translate(400.40 360.00) scale(1.053 1)" font-size="15.2" fill="#ccccdc" text-anchor="end" class="lg" stroke="#ccccdc">3.92 MiB</text><text transform="translate(485.80 360.00) scale(1.053 1)" font-size="15.2" fill="#ccccdc" text-anchor="end" class="lg" stroke="#ccccdc">1.99 MiB</text></svg></svg></div><div class="panel" style="left:1072px;top:428px;width:522px;height:370px"><svg class="ps" width="522" height="370" viewBox="0 0 522 370"><text x="11.00" y="27.00" font-size="18" fill="#ccccdc" class="pt" textLength="362.2" lengthAdjust="spacing">CodeHeap &#39;profiled nmethods&#39; (non-heap)</text><rect x="339.30" y="80.60" width="110.10" height="142.90" fill="#433a36"/><rect x="449.40" y="80.60" width="50.70" height="142.90" fill="#66524a"/><path d="M339.3 223.5 L339.3 213.9 L340.6 211.8 L365.3 211.8 L365.8 210.6 L383.3 210.6 L383.8 209.9 L414.3 209.9 L414.8 208.9 L449.4 208.9 L449.4 223.5" fill="#785856" stroke-linejoin="round"/><path d="M339.3 214.8 L340.6 212.7 L365.3 212.7 L365.8 211.5 L383.3 211.5 L383.8 210.8 L414.3 210.8 L414.8 209.8 L449.4 209.8" fill="none" stroke="#b85a78" stroke-width="1.2" stroke-opacity="0.8" stroke-linejoin="round"/><path d="M339.3 213.9 L340.6 211.8 L365.3 211.8 L365.8 210.6 L383.3 210.6 L383.8 209.9 L414.3 209.9 L414.8 208.9 L449.4 208.9" fill="none" stroke="#e6b488" stroke-width="1.3" stroke-linejoin="round"/><path d="M344.3 214.2 L365.0 213.6 L449.4 212.8" fill="none" stroke="#9a80b0" stroke-width="0.8" stroke-opacity="0.5" stroke-linejoin="round"/><path d="M449.4 223.5 L449.4 208.2 L500.1 208.0 L500.1 223.5" fill="#9a7e68" stroke-linejoin="round"/><path d="M449.4 208.2 L500.1 208.0" fill="none" stroke="#d89a7c" stroke-width="1.4" stroke-linejoin="round"/><path d="M449.4 209.8 L500.1 209.6" fill="none" stroke="#b07a80" stroke-width="1" stroke-opacity="0.7" stroke-linejoin="round"/><path d="M449.4 214.0 L461.4 213.2 L477.4 212.4 L489.4 211.4 L500.1 210.8" fill="none" stroke="#d8b050" stroke-width="1" stroke-opacity="0.8" stroke-linejoin="round"/><rect x="486.10" y="81.60" width="2.00" height="141.90" fill="#ffffff" fill-opacity="0.05"/><line x1="339.30" y1="80.60" x2="449.40" y2="80.60" stroke="#cf7a3a" stroke-width="2"/><line x1="449.40" y1="80.60" x2="500.10" y2="80.60" stroke="#2a5a9c" stroke-width="2"/><line x1="79.5" y1="67.75" x2="500.6" y2="67.75" stroke="rgba(255,255,255,0.085)" stroke-width="1"/><line x1="79.5" y1="87.22" x2="500.6" y2="87.22" stroke="rgba(255,255,255,0.085)" stroke-width="1"/><line x1="79.5" y1="106.86" x2="500.6" y2="106.86" stroke="rgba(255,255,255,0.085)" stroke-width="1"/><line x1="79.5" y1="125.99" x2="500.6" y2="125.99" stroke="rgba(255,255,255,0.085)" stroke-width="1"/><line x1="79.5" y1="145.63" x2="500.6" y2="145.63" stroke="rgba(255,255,255,0.085)" stroke-width="1"/><line x1="79.5" y1="164.60" x2="500.6" y2="164.60" stroke="rgba(255,255,255,0.085)" stroke-width="1"/><line x1="79.5" y1="184.58" x2="500.6" y2="184.58" stroke="rgba(255,255,255,0.085)" stroke-width="1"/><line x1="79.5" y1="203.88" x2="500.6" y2="203.88" stroke="rgba(255,255,255,0.085)" stroke-width="1"/><line x1="79.5" y1="223.52" x2="500.6" y2="223.52" stroke="rgba(255,255,255,0.085)" stroke-width="1"/><line x1="79.5" y1="61.0" x2="79.5" y2="229.0" stroke="rgba(255,255,255,0.085)" stroke-width="1"/><line x1="149.5" y1="61.0" x2="149.5" y2="229.0" stroke="rgba(255,255,255,0.085)" stroke-width="1"/><line x1="219.5" y1="61.0" x2="219.5" y2="229.0" stroke="rgba(255,255,255,0.085)" stroke-width="1"/><line x1="290.5" y1="61.0" x2="290.5" y2="229.0" stroke="rgba(255,255,255,0.085)" stroke-width="1"/><line x1="360.5" y1="61.0" x2="360.5" y2="229.0" stroke="rgba(255,255,255,0.085)" stroke-width="1"/><line x1="430.5" y1="61.0" x2="430.5" y2="229.0" stroke="rgba(255,255,255,0.085)" stroke-width="1"/><rect x="497.8" y="250" width="11.5" height="108" fill="#2b2b2e"/><path d="M499.4 263.5 L503.6 257.5 L507.8 263.5 Z" fill="#a3a3a3"/><rect x="500.1" y="269" width="7" height="14.5" rx="3.5" fill="#9d9d9d"/><path d="M499.4 346.6 L503.6 352.6 L507.8 346.6 Z" fill="#a3a3a3"/></svg><svg class="ps ov" width="522" height="370" viewBox="0 0 522 370"><text transform="translate(72.70 72.35) scale(1.02 1)" font-size="15.7" fill="#c8c8d4" text-anchor="end" class="ax">128 MiB</text><text transform="translate(72.70 91.82) scale(1.02 1)" font-size="15.7" fill="#c8c8d4" text-anchor="end" class="ax">112 MiB</text><text transform="translate(72.70 111.46) scale(1.02 1)" font-size="15.7" fill="#c8c8d4" text-anchor="end" class="ax">96 MiB</text><text transform="translate(72.70 130.59) scale(1.02 1)" font-size="15.7" fill="#c8c8d4" text-anchor="end" class="ax">80 MiB</text><text transform="translate(72.70 150.23) scale(1.02 1)" font-size="15.7" fill="#c8c8d4" text-anchor="end" class="ax">64 MiB</text><text transform="translate(72.70 169.20) scale(1.02 1)" font-size="15.7" fill="#c8c8d4" text-anchor="end" class="ax">48 MiB</text><text transform="translate(72.70 189.18) scale(1.02 1)" font-size="15.7" fill="#c8c8d4" text-anchor="end" class="ax">32 MiB</text><text transform="translate(72.70 208.48) scale(1.02 1)" font-size="15.7" fill="#c8c8d4" text-anchor="end" class="ax">16 MiB</text><text transform="translate(72.70 228.12) scale(1.02 1)" font-size="15.7" fill="#c8c8d4" text-anchor="end" class="ax">0 B</text><text transform="translate(79.50 246.50) scale(1.02 1)" font-size="15.7" fill="#c8c8d4" text-anchor="middle" letter-spacing="0.55" class="ax">00:00</text><text transform="translate(149.68 246.50) scale(1.02 1)" font-size="15.7" fill="#c8c8d4" text-anchor="middle" letter-spacing="0.55" class="ax">04:00</text><text transform="translate(219.87 246.50) scale(1.02 1)" font-size="15.7" fill="#c8c8d4" text-anchor="middle" letter-spacing="0.55" class="ax">08:00</text><text transform="translate(290.05 246.50) scale(1.02 1)" font-size="15.7" fill="#c8c8d4" text-anchor="middle" letter-spacing="0.55" class="ax">12:00</text><text transform="translate(360.23 246.50) scale(1.02 1)" font-size="15.7" fill="#c8c8d4" text-anchor="middle" letter-spacing="0.55" class="ax">16:00</text><text transform="translate(430.42 246.50) scale(1.02 1)" font-size="15.7" fill="#c8c8d4" text-anchor="middle" letter-spacing="0.55" class="ax">20:00</text><svg x="0" y="0" width="522" height="358.5" overflow="hidden"><text transform="translate(48.90 269.60) scale(1.053 1)" font-size="15.2" fill="#6e9fff" class="lg" stroke="#6e9fff">Name</text><text transform="translate(227.40 269.60) scale(1.053 1)" font-size="15.2" fill="#6e9fff" text-anchor="end" class="lg" stroke="#6e9fff">Mean</text><text transform="translate(317.90 269.60) scale(1.053 1)" font-size="15.2" fill="#6e9fff" text-anchor="end" class="lg" stroke="#6e9fff">Last *</text><text transform="translate(396.50 269.60) scale(1.053 1)" font-size="15.2" fill="#6e9fff" text-anchor="end" class="lg" stroke="#6e9fff">Max</text><text transform="translate(476.90 269.60) scale(1.053 1)" font-size="15.2" fill="#6e9fff" text-anchor="end" class="lg" stroke="#6e9fff">Min</text><rect x="11" y="279" width="486.8" height="1" fill="#2c2e33"/><rect x="21" y="292.0" width="18" height="5" rx="2.5" fill="#73bf69"/><text transform="translate(48.90 300.00) scale(1.053 1)" font-size="15.2" fill="#ccccdc" class="lg" stroke="#ccccdc">Used</text><text transform="translate(227.40 300.00) scale(1.053 1)" font-size="15.2" fill="#ccccdc" text-anchor="end" class="lg" stroke="#ccccdc">9.49 MiB</text><text transform="translate(318.60 300.00) scale(1.053 1)" font-size="15.2" fill="#ccccdc" text-anchor="end" class="lg" stroke="#ccccdc">10.3 MiB</text><text transform="translate(402.20 300.00) scale(1.053 1)" font-size="15.2" fill="#ccccdc" text-anchor="end" class="lg" stroke="#ccccdc">10.7 MiB</text><text transform="translate(486.60 300.00) scale(1.053 1)" font-size="15.2" fill="#ccccdc" text-anchor="end" class="lg" stroke="#ccccdc">7.57 MiB</text><rect x="11" y="309.0" width="486.8" height="1" fill="#2c2e33"/><rect x="21" y="322.0" width="18" height="5" rx="2.5" fill="#f2cc0c"/><text transform="translate(48.90 330.00) scale(1.053 1)" font-size="15.2" fill="#ccccdc" class="lg" stroke="#ccccdc">Used</text><text transform="translate(227.40 330.00) scale(1.053 1)" font-size="15.2" fill="#ccccdc" text-anchor="end" class="lg" stroke="#ccccdc">9.45 MiB</text><text transform="translate(318.60 330.00) scale(1.053 1)" font-size="15.2" fill="#ccccdc" text-anchor="end" class="lg" stroke="#ccccdc">10.4 MiB</text><text transform="translate(402.20 330.00) scale(1.053 1)" font-size="15.2" fill="#ccccdc" text-anchor="end" class="lg" stroke="#ccccdc">10.4 MiB</text><text transform="translate(486.60 330.00) scale(1.053 1)" font-size="15.2" fill="#ccccdc" text-anchor="end" class="lg" stroke="#ccccdc">7.46 MiB</text><rect x="11" y="339.0" width="486.8" height="1" fill="#2c2e33"/><rect x="21" y="352.0" width="18" height="5" rx="2.5" fill="#8ab8ff"/><text transform="translate(48.90 360.00) scale(1.053 1)" font-size="15.2" fill="#ccccdc" class="lg" stroke="#ccccdc">Used</text><text transform="translate(227.40 360.00) scale(1.053 1)" font-size="15.2" fill="#ccccdc" text-anchor="end" class="lg" stroke="#ccccdc">10.7 MiB</text><text transform="translate(318.60 360.00) scale(1.053 1)" font-size="15.2" fill="#ccccdc" text-anchor="end" class="lg" stroke="#ccccdc">12.4 MiB</text><text transform="translate(402.20 360.00) scale(1.053 1)" font-size="15.2" fill="#ccccdc" text-anchor="end" class="lg" stroke="#ccccdc">12.4 MiB</text><text transform="translate(486.60 360.00) scale(1.053 1)" font-size="15.2" fill="#ccccdc" text-anchor="end" class="lg" stroke="#ccccdc">6.98 MiB</text></svg></svg></div><div class="panel" style="left:1604px;top:428px;width:521px;height:370px"><svg class="ps" width="521" height="370" viewBox="0 0 521 370"><text x="11.00" y="27.00" font-size="18" fill="#ccccdc" class="pt" textLength="317.7" lengthAdjust="spacing">Compressed Class Space (non-heap)</text><rect x="340.20" y="77.80" width="109.00" height="145.50" fill="#433a36"/><rect x="449.20" y="77.80" width="49.70" height="145.50" fill="#66524a"/><line x1="340.20" y1="223.40" x2="498.90" y2="223.40" stroke="#b07088" stroke-width="1" stroke-opacity="0.8"/><line x1="340.20" y1="222.40" x2="498.90" y2="222.40" stroke="#e6b088" stroke-width="1.5"/><rect x="484.90" y="78.80" width="2.00" height="144.50" fill="#ffffff" fill-opacity="0.05"/><line x1="340.20" y1="77.80" x2="449.20" y2="77.80" stroke="#cf7a3a" stroke-width="2"/><line x1="449.20" y1="77.80" x2="498.90" y2="77.80" stroke="#2a5a9c" stroke-width="2"/><line x1="83.6" y1="77.90" x2="498.9" y2="77.90" stroke="rgba(255,255,255,0.085)" stroke-width="1"/><line x1="83.6" y1="114.14" x2="498.9" y2="114.14" stroke="rgba(255,255,255,0.085)" stroke-width="1"/><line x1="83.6" y1="151.05" x2="498.9" y2="151.05" stroke="rgba(255,255,255,0.085)" stroke-width="1"/><line x1="83.6" y1="186.95" x2="498.9" y2="186.95" stroke="rgba(255,255,255,0.085)" stroke-width="1"/><line x1="83.6" y1="223.86" x2="498.9" y2="223.86" stroke="rgba(255,255,255,0.085)" stroke-width="1"/><line x1="83.5" y1="61.0" x2="83.5" y2="229.0" stroke="rgba(255,255,255,0.085)" stroke-width="1"/><line x1="152.5" y1="61.0" x2="152.5" y2="229.0" stroke="rgba(255,255,255,0.085)" stroke-width="1"/><line x1="222.5" y1="61.0" x2="222.5" y2="229.0" stroke="rgba(255,255,255,0.085)" stroke-width="1"/><line x1="291.5" y1="61.0" x2="291.5" y2="229.0" stroke="rgba(255,255,255,0.085)" stroke-width="1"/><line x1="360.5" y1="61.0" x2="360.5" y2="229.0" stroke="rgba(255,255,255,0.085)" stroke-width="1"/><line x1="429.5" y1="61.0" x2="429.5" y2="229.0" stroke="rgba(255,255,255,0.085)" stroke-width="1"/><rect x="497.8" y="250" width="11.5" height="108" fill="#2b2b2e"/><path d="M499.4 263.5 L503.6 257.5 L507.8 263.5 Z" fill="#a3a3a3"/><rect x="500.1" y="269" width="7" height="14.5" rx="3.5" fill="#9d9d9d"/><path d="M499.4 346.6 L503.6 352.6 L507.8 346.6 Z" fill="#a3a3a3"/></svg><svg class="ps ov" width="521" height="370" viewBox="0 0 521 370"><text transform="translate(75.70 82.50) scale(1.02 1)" font-size="15.7" fill="#c8c8d4" text-anchor="end" class="ax">1 GiB</text><text transform="translate(75.70 118.74) scale(1.02 1)" font-size="15.7" fill="#c8c8d4" text-anchor="end" class="ax">768 MiB</text><text transform="translate(75.70 155.65) scale(1.02 1)" font-size="15.7" fill="#c8c8d4" text-anchor="end" class="ax">512 MiB</text><text transform="translate(75.70 191.55) scale(1.02 1)" font-size="15.7" fill="#c8c8d4" text-anchor="end" class="ax">256 MiB</text><text transform="translate(75.70 228.46) scale(1.02 1)" font-size="15.7" fill="#c8c8d4" text-anchor="end" class="ax">0 B</text><text transform="translate(83.60 246.50) scale(1.02 1)" font-size="15.7" fill="#c8c8d4" text-anchor="middle" letter-spacing="0.55" class="ax">00:00</text><text transform="translate(152.82 246.50) scale(1.02 1)" font-size="15.7" fill="#c8c8d4" text-anchor="middle" letter-spacing="0.55" class="ax">04:00</text><text transform="translate(222.03 246.50) scale(1.02 1)" font-size="15.7" fill="#c8c8d4" text-anchor="middle" letter-spacing="0.55" class="ax">08:00</text><text transform="translate(291.25 246.50) scale(1.02 1)" font-size="15.7" fill="#c8c8d4" text-anchor="middle" letter-spacing="0.55" class="ax">12:00</text><text transform="translate(360.47 246.50) scale(1.02 1)" font-size="15.7" fill="#c8c8d4" text-anchor="middle" letter-spacing="0.55" class="ax">16:00</text><text transform="translate(429.68 246.50) scale(1.02 1)" font-size="15.7" fill="#c8c8d4" text-anchor="middle" letter-spacing="0.55" class="ax">20:00</text><svg x="0" y="0" width="521" height="358.5" overflow="hidden"><text transform="translate(48.90 269.60) scale(1.053 1)" font-size="15.2" fill="#6e9fff" class="lg" stroke="#6e9fff">Name</text><text transform="translate(225.80 269.60) scale(1.053 1)" font-size="15.2" fill="#6e9fff" text-anchor="end" class="lg" stroke="#6e9fff">Mean</text><text transform="translate(316.60 269.60) scale(1.053 1)" font-size="15.2" fill="#6e9fff" text-anchor="end" class="lg" stroke="#6e9fff">Last *</text><text transform="translate(395.20 269.60) scale(1.053 1)" font-size="15.2" fill="#6e9fff" text-anchor="end" class="lg" stroke="#6e9fff">Max</text><text transform="translate(476.70 269.60) scale(1.053 1)" font-size="15.2" fill="#6e9fff" text-anchor="end" class="lg" stroke="#6e9fff">Min</text><rect x="11" y="279" width="486.8" height="1" fill="#2c2e33"/><rect x="21" y="292.0" width="18" height="5" rx="2.5" fill="#73bf69"/><text transform="translate(48.90 300.00) scale(1.053 1)" font-size="15.2" fill="#ccccdc" class="lg" stroke="#ccccdc">Used</text><text transform="translate(225.80 300.00) scale(1.053 1)" font-size="15.2" fill="#ccccdc" text-anchor="end" class="lg" stroke="#ccccdc">4.63 MiB</text><text transform="translate(316.60 300.00) scale(1.053 1)" font-size="15.2" fill="#ccccdc" text-anchor="end" class="lg" stroke="#ccccdc">4.63 MiB</text><text transform="translate(401.60 300.00) scale(1.053 1)" font-size="15.2" fill="#ccccdc" text-anchor="end" class="lg" stroke="#ccccdc">4.63 MiB</text><text transform="translate(486.30 300.00) scale(1.053 1)" font-size="15.2" fill="#ccccdc" text-anchor="end" class="lg" stroke="#ccccdc">4.62 MiB</text><rect x="11" y="309.0" width="486.8" height="1" fill="#2c2e33"/><rect x="21" y="322.0" width="18" height="5" rx="2.5" fill="#f2cc0c"/><text transform="translate(48.90 330.00) scale(1.053 1)" font-size="15.2" fill="#ccccdc" class="lg" stroke="#ccccdc">Used</text><text transform="translate(225.80 330.00) scale(1.053 1)" font-size="15.2" fill="#ccccdc" text-anchor="end" class="lg" stroke="#ccccdc">4.63 MiB</text><text transform="translate(316.60 330.00) scale(1.053 1)" font-size="15.2" fill="#ccccdc" text-anchor="end" class="lg" stroke="#ccccdc">4.63 MiB</text><text transform="translate(401.60 330.00) scale(1.053 1)" font-size="15.2" fill="#ccccdc" text-anchor="end" class="lg" stroke="#ccccdc">4.63 MiB</text><text transform="translate(486.30 330.00) scale(1.053 1)" font-size="15.2" fill="#ccccdc" text-anchor="end" class="lg" stroke="#ccccdc">4.62 MiB</text><rect x="11" y="339.0" width="486.8" height="1" fill="#2c2e33"/><rect x="21" y="352.0" width="18" height="5" rx="2.5" fill="#8ab8ff"/><text transform="translate(48.90 360.00) scale(1.053 1)" font-size="15.2" fill="#ccccdc" class="lg" stroke="#ccccdc">Used</text><text transform="translate(225.80 360.00) scale(1.053 1)" font-size="15.2" fill="#ccccdc" text-anchor="end" class="lg" stroke="#ccccdc">4.63 MiB</text><text transform="translate(316.60 360.00) scale(1.053 1)" font-size="15.2" fill="#ccccdc" text-anchor="end" class="lg" stroke="#ccccdc">4.63 MiB</text><text transform="translate(401.60 360.00) scale(1.053 1)" font-size="15.2" fill="#ccccdc" text-anchor="end" class="lg" stroke="#ccccdc">4.63 MiB</text><text transform="translate(486.30 360.00) scale(1.053 1)" font-size="15.2" fill="#ccccdc" text-anchor="end" class="lg" stroke="#ccccdc">4.62 MiB</text></svg></svg></div><div class="panel" style="left:9px;top:808px;width:522px;height:369px"><svg class="ps" width="522" height="369" viewBox="0 0 522 369"><text x="11.00" y="27.00" font-size="18" fill="#ccccdc" class="pt" textLength="194.8" lengthAdjust="spacing">Metaspace (non-heap)</text><path d="M337.6 207.8 L337.6 110.6 L339.1 109.0 L344.9 108.2 L345.4 107.2 L355.4 107.2 L355.9 106.0 L375.0 106.0 L375.5 104.8 L422.3 104.8 L422.8 103.7 L498.8 103.7 L499.6 102.6 L499.6 207.8" fill="#5b3f4a" stroke-linejoin="round"/><path d="M448.4 207.8 L448.4 111.0 L450.0 109.2 L451.6 108.6 L457.0 108.6 L457.5 107.3 L470.5 107.3 L471.0 106.1 L496.6 106.1 L499.6 104.5 L499.6 207.8" fill="#857466" stroke-linejoin="round"/><path d="M337.6 112.1 L339.1 110.5 L344.9 109.7 L345.4 108.7 L355.4 108.7 L355.9 107.5 L375.0 107.5 L375.5 106.3 L422.3 106.3 L422.8 105.2 L498.8 105.2 L499.6 104.1" fill="none" stroke="#9a5aa8" stroke-width="1.1" stroke-opacity="0.9" stroke-linejoin="round"/><path d="M337.6 110.6 L339.1 109.0 L344.9 108.2 L345.4 107.2 L355.4 107.2 L355.9 106.0 L375.0 106.0 L375.5 104.8 L422.3 104.8 L422.8 103.7 L498.8 103.7 L499.6 102.6" fill="none" stroke="#e6b48c" stroke-width="1.2" stroke-linejoin="round"/><path d="M448.4 112.4 L450.0 110.6 L451.6 110.0 L457.0 110.0 L457.5 108.7 L470.5 108.7 L471.0 107.5 L496.6 107.5 L499.6 105.9" fill="none" stroke="#d4a848" stroke-width="1.1" stroke-opacity="0.9" stroke-linejoin="round"/><path d="M448.4 111.0 L450.0 109.2 L451.6 108.6 L457.0 108.6 L457.5 107.3 L470.5 107.3 L471.0 106.1 L496.6 106.1 L499.6 104.5" fill="none" stroke="#e8c070" stroke-width="1.1" stroke-linejoin="round"/><rect x="485.80" y="106.50" width="2.00" height="101.30" fill="#ffffff" fill-opacity="0.08"/><line x1="486.8" y1="79.5" x2="486.8" y2="103.7" stroke="#5e5468" stroke-width="1.6"/><circle cx="486.9" cy="78.6" r="2.1" fill="#b8c0c8"/><circle cx="487.3" cy="78.1" r="1.1" fill="#a8d8b0"/><line x1="337.60" y1="207.80" x2="448.40" y2="207.80" stroke="#cf7a3a" stroke-width="2"/><line x1="448.40" y1="207.80" x2="499.60" y2="207.80" stroke="#2a5a9c" stroke-width="2"/><line x1="74.5" y1="76.04" x2="500.4" y2="76.04" stroke="rgba(255,255,255,0.085)" stroke-width="1"/><line x1="74.5" y1="97.72" x2="500.4" y2="97.72" stroke="rgba(255,255,255,0.085)" stroke-width="1"/><line x1="74.5" y1="119.73" x2="500.4" y2="119.73" stroke="rgba(255,255,255,0.085)" stroke-width="1"/><line x1="74.5" y1="141.91" x2="500.4" y2="141.91" stroke="rgba(255,255,255,0.085)" stroke-width="1"/><line x1="74.5" y1="163.75" x2="500.4" y2="163.75" stroke="rgba(255,255,255,0.085)" stroke-width="1"/><line x1="74.5" y1="185.76" x2="500.4" y2="185.76" stroke="rgba(255,255,255,0.085)" stroke-width="1"/><line x1="74.5" y1="207.77" x2="500.4" y2="207.77" stroke="rgba(255,255,255,0.085)" stroke-width="1"/><line x1="74.5" y1="61.2" x2="74.5" y2="228.4" stroke="rgba(255,255,255,0.085)" stroke-width="1"/><line x1="145.5" y1="61.2" x2="145.5" y2="228.4" stroke="rgba(255,255,255,0.085)" stroke-width="1"/><line x1="216.5" y1="61.2" x2="216.5" y2="228.4" stroke="rgba(255,255,255,0.085)" stroke-width="1"/><line x1="287.5" y1="61.2" x2="287.5" y2="228.4" stroke="rgba(255,255,255,0.085)" stroke-width="1"/><line x1="358.5" y1="61.2" x2="358.5" y2="228.4" stroke="rgba(255,255,255,0.085)" stroke-width="1"/><line x1="429.5" y1="61.2" x2="429.5" y2="228.4" stroke="rgba(255,255,255,0.085)" stroke-width="1"/><rect x="497.8" y="250" width="11.5" height="108" fill="#2b2b2e"/><path d="M499.4 263.5 L503.6 257.5 L507.8 263.5 Z" fill="#a3a3a3"/><rect x="500.1" y="269" width="7" height="14.5" rx="3.5" fill="#9d9d9d"/><path d="M499.4 346.6 L503.6 352.6 L507.8 346.6 Z" fill="#a3a3a3"/></svg><svg class="ps ov" width="522" height="369" viewBox="0 0 522 369"><text transform="translate(67.40 80.64) scale(1.02 1)" font-size="15.7" fill="#c8c8d4" text-anchor="end" class="ax">48 MiB</text><text transform="translate(67.40 102.32) scale(1.02 1)" font-size="15.7" fill="#c8c8d4" text-anchor="end" class="ax">40 MiB</text><text transform="translate(67.40 124.33) scale(1.02 1)" font-size="15.7" fill="#c8c8d4" text-anchor="end" class="ax">32 MiB</text><text transform="translate(67.40 146.51) scale(1.02 1)" font-size="15.7" fill="#c8c8d4" text-anchor="end" class="ax">24 MiB</text><text transform="translate(67.40 168.35) scale(1.02 1)" font-size="15.7" fill="#c8c8d4" text-anchor="end" class="ax">16 MiB</text><text transform="translate(67.40 190.36) scale(1.02 1)" font-size="15.7" fill="#c8c8d4" text-anchor="end" class="ax">8 MiB</text><text transform="translate(67.40 212.37) scale(1.02 1)" font-size="15.7" fill="#c8c8d4" text-anchor="end" class="ax">0 B</text><text transform="translate(74.50 246.50) scale(1.02 1)" font-size="15.7" fill="#c8c8d4" text-anchor="middle" letter-spacing="0.55" class="ax">00:00</text><text transform="translate(145.48 246.50) scale(1.02 1)" font-size="15.7" fill="#c8c8d4" text-anchor="middle" letter-spacing="0.55" class="ax">04:00</text><text transform="translate(216.47 246.50) scale(1.02 1)" font-size="15.7" fill="#c8c8d4" text-anchor="middle" letter-spacing="0.55" class="ax">08:00</text><text transform="translate(287.45 246.50) scale(1.02 1)" font-size="15.7" fill="#c8c8d4" text-anchor="middle" letter-spacing="0.55" class="ax">12:00</text><text transform="translate(358.43 246.50) scale(1.02 1)" font-size="15.7" fill="#c8c8d4" text-anchor="middle" letter-spacing="0.55" class="ax">16:00</text><text transform="translate(429.42 246.50) scale(1.02 1)" font-size="15.7" fill="#c8c8d4" text-anchor="middle" letter-spacing="0.55" class="ax">20:00</text><svg x="0" y="0" width="522" height="358.5" overflow="hidden"><text transform="translate(48.90 269.60) scale(1.053 1)" font-size="15.2" fill="#6e9fff" class="lg" stroke="#6e9fff">Name</text><text transform="translate(224.70 269.60) scale(1.053 1)" font-size="15.2" fill="#6e9fff" text-anchor="end" class="lg" stroke="#6e9fff">Mean</text><text transform="translate(314.20 269.60) scale(1.053 1)" font-size="15.2" fill="#6e9fff" text-anchor="end" class="lg" stroke="#6e9fff">Last *</text><text transform="translate(393.20 269.60) scale(1.053 1)" font-size="15.2" fill="#6e9fff" text-anchor="end" class="lg" stroke="#6e9fff">Max</text><text transform="translate(475.00 269.60) scale(1.053 1)" font-size="15.2" fill="#6e9fff" text-anchor="end" class="lg" stroke="#6e9fff">Min</text><rect x="11" y="279" width="486.8" height="1" fill="#2c2e33"/><rect x="21" y="292.0" width="18" height="5" rx="2.5" fill="#73bf69"/><text transform="translate(48.90 300.00) scale(1.053 1)" font-size="15.2" fill="#ccccdc" class="lg" stroke="#ccccdc">Used</text><text transform="translate(224.70 300.00) scale(1.053 1)" font-size="15.2" fill="#ccccdc" text-anchor="end" class="lg" stroke="#ccccdc">40.1 MiB</text><text transform="translate(315.50 300.00) scale(1.053 1)" font-size="15.2" fill="#ccccdc" text-anchor="end" class="lg" stroke="#ccccdc">41.2 MiB</text><text transform="translate(401.00 300.00) scale(1.053 1)" font-size="15.2" fill="#ccccdc" text-anchor="end" class="lg" stroke="#ccccdc">41.2 MiB</text><text transform="translate(486.40 300.00) scale(1.053 1)" font-size="15.2" fill="#ccccdc" text-anchor="end" class="lg" stroke="#ccccdc">38.0 MiB</text><rect x="11" y="309.0" width="486.8" height="1" fill="#2c2e33"/><rect x="21" y="322.0" width="18" height="5" rx="2.5" fill="#f2cc0c"/><text transform="translate(48.90 330.00) scale(1.053 1)" font-size="15.2" fill="#ccccdc" class="lg" stroke="#ccccdc">Used</text><text transform="translate(224.70 330.00) scale(1.053 1)" font-size="15.2" fill="#ccccdc" text-anchor="end" class="lg" stroke="#ccccdc">40.1 MiB</text><text transform="translate(315.50 330.00) scale(1.053 1)" font-size="15.2" fill="#ccccdc" text-anchor="end" class="lg" stroke="#ccccdc">41.2 MiB</text><text transform="translate(401.00 330.00) scale(1.053 1)" font-size="15.2" fill="#ccccdc" text-anchor="end" class="lg" stroke="#ccccdc">41.2 MiB</text><text transform="translate(486.40 330.00) scale(1.053 1)" font-size="15.2" fill="#ccccdc" text-anchor="end" class="lg" stroke="#ccccdc">38.0 MiB</text><rect x="11" y="339.0" width="486.8" height="1" fill="#2c2e33"/><rect x="21" y="352.0" width="18" height="5" rx="2.5" fill="#8ab8ff"/><text transform="translate(48.90 360.00) scale(1.053 1)" font-size="15.2" fill="#ccccdc" class="lg" stroke="#ccccdc">Used</text><text transform="translate(224.70 360.00) scale(1.053 1)" font-size="15.2" fill="#ccccdc" text-anchor="end" class="lg" stroke="#ccccdc">40.1 MiB</text><text transform="translate(315.50 360.00) scale(1.053 1)" font-size="15.2" fill="#ccccdc" text-anchor="end" class="lg" stroke="#ccccdc">41.2 MiB</text><text transform="translate(401.00 360.00) scale(1.053 1)" font-size="15.2" fill="#ccccdc" text-anchor="end" class="lg" stroke="#ccccdc">41.2 MiB</text><text transform="translate(486.40 360.00) scale(1.053 1)" font-size="15.2" fill="#ccccdc" text-anchor="end" class="lg" stroke="#ccccdc">38.0 MiB</text></svg></svg></div><svg style="position:absolute;left:2093px;top:186px" width="54" height="46"><path d="M22.5 0.5 H52 V44.5 H22.5 A22 22 0 0 1 22.5 0.5 Z" fill="#d0d0d0" fill-opacity="0.93"/><circle cx="24.3" cy="22.6" r="17.3" fill="#b9546f"/><g fill="none" stroke="#e0e0e0" stroke-width="1.6" stroke-linecap="round"><rect x="14.3" y="14.8" width="7.6" height="5.8"/><line x1="18.1" y1="12.4" x2="18.1" y2="24.4"/><path d="M26.6 15.2 Q32.4 14.6 32.4 19.6"/><path d="M14.6 24 Q14.6 28.8 20.2 28.8"/><path d="M24.6 31.4 L29 21 L33.4 31.4 M26.3 27.6 H31.7"/></g></svg><div class="sbar"></div></body></html>
